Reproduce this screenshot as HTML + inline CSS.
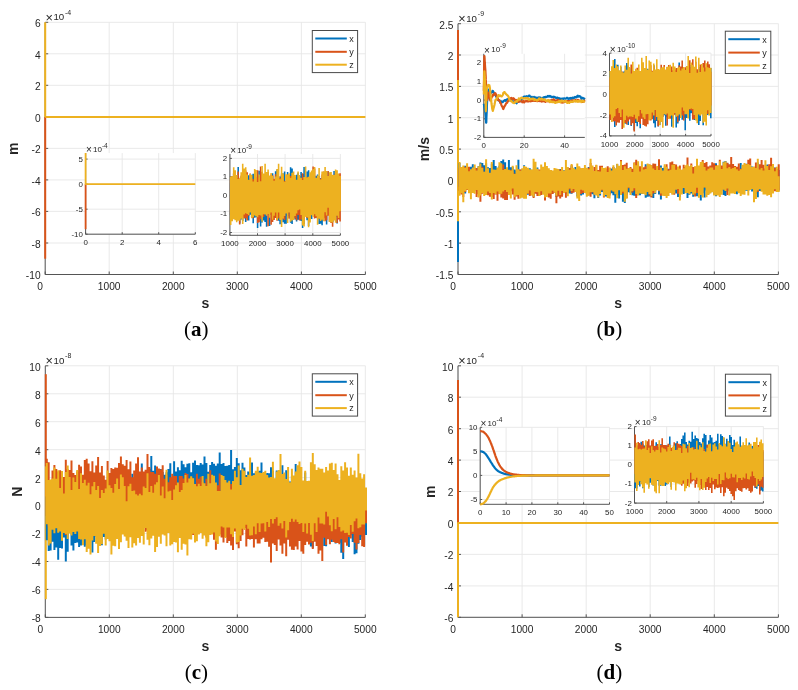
<!DOCTYPE html>
<html><head><meta charset="utf-8"><style>
html,body{margin:0;padding:0;background:#fff;}
svg{display:block;font-family:"Liberation Sans", sans-serif;will-change:transform;}
</style></head><body>
<svg width="798" height="690" viewBox="0 0 798 690">
<rect width="798" height="690" fill="#fff"/>
<line x1="45.2" y1="22.3" x2="45.2" y2="274.5" stroke="#e6e6e6" stroke-width="0.9"/>
<line x1="109.2" y1="22.3" x2="109.2" y2="274.5" stroke="#e6e6e6" stroke-width="0.9"/>
<line x1="173.3" y1="22.3" x2="173.3" y2="274.5" stroke="#e6e6e6" stroke-width="0.9"/>
<line x1="237.3" y1="22.3" x2="237.3" y2="274.5" stroke="#e6e6e6" stroke-width="0.9"/>
<line x1="301.4" y1="22.3" x2="301.4" y2="274.5" stroke="#e6e6e6" stroke-width="0.9"/>
<line x1="365.4" y1="22.3" x2="365.4" y2="274.5" stroke="#e6e6e6" stroke-width="0.9"/>
<line x1="45.2" y1="274.5" x2="365.4" y2="274.5" stroke="#e6e6e6" stroke-width="0.9"/>
<line x1="45.2" y1="243" x2="365.4" y2="243" stroke="#e6e6e6" stroke-width="0.9"/>
<line x1="45.2" y1="211.4" x2="365.4" y2="211.4" stroke="#e6e6e6" stroke-width="0.9"/>
<line x1="45.2" y1="179.9" x2="365.4" y2="179.9" stroke="#e6e6e6" stroke-width="0.9"/>
<line x1="45.2" y1="148.4" x2="365.4" y2="148.4" stroke="#e6e6e6" stroke-width="0.9"/>
<line x1="45.2" y1="116.9" x2="365.4" y2="116.9" stroke="#e6e6e6" stroke-width="0.9"/>
<line x1="45.2" y1="85.3" x2="365.4" y2="85.3" stroke="#e6e6e6" stroke-width="0.9"/>
<line x1="45.2" y1="53.8" x2="365.4" y2="53.8" stroke="#e6e6e6" stroke-width="0.9"/>
<line x1="45.2" y1="22.3" x2="365.4" y2="22.3" stroke="#e6e6e6" stroke-width="0.9"/>
<path d="M45.2 22.3V274.5H365.4" fill="none" stroke="#555555" stroke-width="1.0"/>
<path d="M45.2 274.5v-3M109.2 274.5v-3M173.3 274.5v-3M237.3 274.5v-3M301.4 274.5v-3M365.4 274.5v-3M45.2 274.5h3M45.2 243h3M45.2 211.4h3M45.2 179.9h3M45.2 148.4h3M45.2 116.9h3M45.2 85.3h3M45.2 53.8h3M45.2 22.3h3" stroke="#555555" stroke-width="1.0"/>
<polyline points="45.2,116.9 45.2,258.7" fill="none" stroke="#D95319" stroke-width="2" stroke-linejoin="round" />
<polyline points="45.2,116.9 365.4,116.9" fill="none" stroke="#EDB120" stroke-width="2" stroke-linejoin="round" />
<polyline points="45.2,22.3 45.2,116.9" fill="none" stroke="#EDB120" stroke-width="2" stroke-linejoin="round" />
<g style="font-size:10.2px" fill="#262626"><text x="40.2" y="290.2" text-anchor="middle">0</text>
<text x="109.2" y="290.2" text-anchor="middle">1000</text>
<text x="173.3" y="290.2" text-anchor="middle">2000</text>
<text x="237.3" y="290.2" text-anchor="middle">3000</text>
<text x="301.4" y="290.2" text-anchor="middle">4000</text>
<text x="365.4" y="290.2" text-anchor="middle">5000</text>
<text x="40.6" y="279.4" text-anchor="end">-10</text>
<text x="40.6" y="247.8" text-anchor="end">-8</text>
<text x="40.6" y="216.3" text-anchor="end">-6</text>
<text x="40.6" y="184.8" text-anchor="end">-4</text>
<text x="40.6" y="153.3" text-anchor="end">-2</text>
<text x="40.6" y="121.7" text-anchor="end">0</text>
<text x="40.6" y="90.2" text-anchor="end">2</text>
<text x="40.6" y="58.7" text-anchor="end">4</text>
<text x="40.6" y="27.2" text-anchor="end">6</text>
<text x="45.5" y="21.5" style="font-size:12.7px">&#215;</text>
<text x="53.4" y="20.3" style="font-size:9.7px">10</text>
<text x="65" y="14.6" style="font-size:7.0px">-4</text></g>
<text x="18.2" y="148.7" transform="rotate(-90 18.2 148.7)" text-anchor="middle" fill="#262626" style="font-size:14px;font-weight:bold">m</text>
<text x="205.3" y="307.9" text-anchor="middle" fill="#262626" style="font-size:14px;font-weight:bold">s</text>
<rect x="312.3" y="30.5" width="45.3" height="42.1" fill="#fff" stroke="#4a4a4a" stroke-width="1"/>
<line x1="315.3" y1="38.5" x2="346.8" y2="38.5" stroke="#0072BD" stroke-width="2"/>
<text x="349.3" y="41.8" fill="#262626" style="font-size:9px">x</text>
<line x1="315.3" y1="51.8" x2="346.8" y2="51.8" stroke="#D95319" stroke-width="2"/>
<text x="349.3" y="55.1" fill="#262626" style="font-size:9px">y</text>
<line x1="315.3" y1="64.7" x2="346.8" y2="64.7" stroke="#EDB120" stroke-width="2"/>
<text x="349.3" y="68" fill="#262626" style="font-size:9px">z</text>
<rect x="85.6" y="153.1" width="109.7" height="81.1" fill="#fff"/>
<line x1="85.6" y1="153.1" x2="85.6" y2="234.2" stroke="#e6e6e6" stroke-width="0.9"/>
<line x1="122.2" y1="153.1" x2="122.2" y2="234.2" stroke="#e6e6e6" stroke-width="0.9"/>
<line x1="158.7" y1="153.1" x2="158.7" y2="234.2" stroke="#e6e6e6" stroke-width="0.9"/>
<line x1="195.3" y1="153.1" x2="195.3" y2="234.2" stroke="#e6e6e6" stroke-width="0.9"/>
<line x1="85.6" y1="234.2" x2="195.3" y2="234.2" stroke="#e6e6e6" stroke-width="0.9"/>
<line x1="85.6" y1="209.2" x2="195.3" y2="209.2" stroke="#e6e6e6" stroke-width="0.9"/>
<line x1="85.6" y1="184.1" x2="195.3" y2="184.1" stroke="#e6e6e6" stroke-width="0.9"/>
<line x1="85.6" y1="159.1" x2="195.3" y2="159.1" stroke="#e6e6e6" stroke-width="0.9"/>
<path d="M85.6 153.1V234.2H195.3" fill="none" stroke="#555555" stroke-width="1.0"/>
<path d="M85.6 234.2v-2M122.2 234.2v-2M158.7 234.2v-2M195.3 234.2v-2M85.6 234.2h2M85.6 209.2h2M85.6 184.1h2M85.6 159.1h2" stroke="#555555" stroke-width="1.0"/>
<polyline points="85.6,184.1 85.6,229.2" fill="none" stroke="#D95319" stroke-width="1.8" stroke-linejoin="round" />
<polyline points="85.6,153.1 85.6,184.1 195.3,184.1" fill="none" stroke="#EDB120" stroke-width="1.8" stroke-linejoin="round" />
<g style="font-size:7.9px" fill="#262626"><text x="85.6" y="245" text-anchor="middle">0</text>
<text x="122.2" y="245" text-anchor="middle">2</text>
<text x="158.7" y="245" text-anchor="middle">4</text>
<text x="195.3" y="245" text-anchor="middle">6</text>
<text x="82.9" y="236.7" text-anchor="end">-10</text>
<text x="82.9" y="211.7" text-anchor="end">-5</text>
<text x="82.9" y="186.6" text-anchor="end">0</text>
<text x="82.9" y="161.6" text-anchor="end">5</text>
<text x="85.9" y="152.8" style="font-size:10.0px">&#215;</text>
<text x="93" y="151.7" style="font-size:8.0px">10</text>
<text x="101.9" y="147.6" style="font-size:6.5px">-4</text></g>
<rect x="229.9" y="154" width="110.5" height="81.3" fill="#fff"/>
<line x1="229.9" y1="154" x2="229.9" y2="235.3" stroke="#e6e6e6" stroke-width="0.9"/>
<line x1="257.5" y1="154" x2="257.5" y2="235.3" stroke="#e6e6e6" stroke-width="0.9"/>
<line x1="285.1" y1="154" x2="285.1" y2="235.3" stroke="#e6e6e6" stroke-width="0.9"/>
<line x1="312.8" y1="154" x2="312.8" y2="235.3" stroke="#e6e6e6" stroke-width="0.9"/>
<line x1="340.4" y1="154" x2="340.4" y2="235.3" stroke="#e6e6e6" stroke-width="0.9"/>
<line x1="229.9" y1="232.5" x2="340.4" y2="232.5" stroke="#e6e6e6" stroke-width="0.9"/>
<line x1="229.9" y1="214" x2="340.4" y2="214" stroke="#e6e6e6" stroke-width="0.9"/>
<line x1="229.9" y1="195.4" x2="340.4" y2="195.4" stroke="#e6e6e6" stroke-width="0.9"/>
<line x1="229.9" y1="176.9" x2="340.4" y2="176.9" stroke="#e6e6e6" stroke-width="0.9"/>
<line x1="229.9" y1="158.4" x2="340.4" y2="158.4" stroke="#e6e6e6" stroke-width="0.9"/>
<path d="M229.9 154V235.3H340.4" fill="none" stroke="#555555" stroke-width="1.0"/>
<path d="M229.9 235.3v-2M257.5 235.3v-2M285.1 235.3v-2M312.8 235.3v-2M340.4 235.3v-2M229.9 232.5h2M229.9 214h2M229.9 195.4h2M229.9 176.9h2M229.9 158.4h2" stroke="#555555" stroke-width="1.0"/>
<path d="M230.7 215.5V183.2M232.2 214.1V178.9M233.7 217.5V173.9M235.2 212.1V181.1M236.7 219.1V178.9M238.2 215.3V167.1M239.7 223.5V179.8M241.2 219.5V177.6M242.7 221V175.5M244.2 212.1V184.5M245.7 222.1V176.5M247.2 216.9V175.1M248.7 220.5V175.3M250.2 214.7V178.8M251.7 217.1V174.7M253.2 223.3V173.7M254.7 217.8V174.6M256.1 217.2V177.7M257.6 228V175.5M259.1 217.3V170.8M260.6 226.6V174.6M262.1 222.4V179.7M263.6 220.5V174.9M265.1 222.1V177.9M266.6 226.8V183.1M268.1 213.2V177.2M269.6 226V175.9M271.1 214.7V181.2M272.6 214.7V173.3M274.1 216.7V180.1M275.6 217V171.3M277.1 217.1V169.6M278.6 220.7V178.9M280.1 224.3V176.6M281.6 214.8V173.5M283.1 222.2V173.5M284.6 223.8V171.4M286.1 223.8V181M287.6 216V172.1M289.1 217.7V175M290.6 222.7V167.3M292.1 224V168.5M293.6 218V175.8M295.1 219.6V179.1M296.6 221.4V174.7M298.1 219.7V172.7M299.6 220V175.9M301.1 221.1V171.9M302.6 228.1V174M304.1 224.3V167.1M305.6 215V179.8M307.1 220.2V171.5M308.6 226V170.2M310.1 216V177M311.6 218.9V180.6M313.1 214.1V174.6M314.6 213V182.1M316.1 214.9V175.8M317.6 219V174.5M319.1 223.9V175.9M320.6 223.8V177.9M322.1 225.3V178.7M323.6 218.5V178.8M325.1 216.2V177.3M326.6 224.6V178.4M328.1 214.9V171.5M329.6 221.6V179.5M331.1 217.8V176M332.6 222.1V182.6M334.1 217.5V171M335.6 216.9V182M337.1 223.6V178.1M338.6 214.3V180.2M340.1 211.6V180.6" fill="none" stroke="#0072BD" stroke-width="1.5750000000000002"/>
<path d="M230.7 214.8V180.1M232.2 217.2V176M233.7 216.5V172.7M235.2 219V177.6M236.7 218.5V178.1M238.2 216.9V171.6M239.7 224.4V181.7M241.2 214.3V175.4M242.7 217.6V175.7M244.2 218.6V177M245.7 218.2V170.4M247.2 220.4V172.2M248.7 215.7V180.2M250.2 212.1V173.4M251.7 212.2V178.5M253.2 218.2V179.2M254.7 211.1V174.5M256.1 215.7V176.9M257.6 222.9V170.3M259.1 222.3V177.6M260.6 219.2V166.4M262.1 216.8V171.7M263.6 217V176.4M265.1 210.5V175.7M266.6 213.7V180.8M268.1 226.2V171.9M269.6 214.4V179.3M271.1 224.7V174.4M272.6 222V175.6M274.1 220.1V178.7M275.6 217.9V174.3M277.1 220.7V181.8M278.6 218.4V176.3M280.1 216.8V177.9M281.6 218.1V175.1M283.1 219.3V175M284.6 219.9V180.8M286.1 209.7V181.6M287.6 212.5V174.5M289.1 218.8V176.6M290.6 211.9V176.1M292.1 219.9V175.8M293.6 213.6V178.6M295.1 218.4V176.8M296.6 220.2V180.3M298.1 215.1V180.8M299.6 220.5V183.6M301.1 219.6V178.6M302.6 212.8V173.3M304.1 221.1V178.1M305.6 216.4V182.3M307.1 217.9V176.9M308.6 215.5V178M310.1 218.2V178.1M311.6 214.9V178.4M313.1 212.8V166.4M314.6 218.6V168.5M316.1 218V180.5M317.6 217.1V176.9M319.1 213.9V176.7M320.6 220.3V178.5M322.1 213.2V174.6M323.6 217.7V171.4M325.1 221.2V177.7M326.6 220.2V178.2M328.1 215.8V171M329.6 222.1V181.3M331.1 223.1V178.4M332.6 226.8V177.9M334.1 218.3V174.8M335.6 214.8V172.6M337.1 223V179.9M338.6 219.5V173.7M340.1 221.5V173.2" fill="none" stroke="#D95319" stroke-width="1.5750000000000002"/>
<path d="M230.7 225.1V176.7M232.2 221.3V175.9M233.7 219.3V167.3M235.2 220.3V170.3M236.7 222.2V175M238.2 220.7V179M239.7 220.7V177.8M241.2 218.8V172.2M242.7 223.9V163.7M244.2 214.6V168.4M245.7 213.3V167.2M247.2 213.9V174.6M248.7 214.9V179.8M250.2 212.4V174M251.7 218.2V174.9M253.2 217.1V181.5M254.7 215.6V168.9M256.1 216.4V169.9M257.6 217.2V181.9M259.1 214.9V174.4M260.6 215.6V181.3M262.1 221.8V166M263.6 214.3V173.6M265.1 214.5V163.7M266.6 215.8V172M268.1 214V169.5M269.6 217.8V175.5M271.1 212.6V172.9M272.6 219.8V175.7M274.1 215.8V180.7M275.6 212.5V176.5M277.1 220V168.9M278.6 212.5V163.7M280.1 219.9V179.2M281.6 227.1V166.8M283.1 218.6V173.5M284.6 215.9V181.7M286.1 213.4V174.3M287.6 223V174.4M289.1 212.5V173.2M290.6 221.7V177.7M292.1 220.6V172.8M293.6 219.9V171.6M295.1 216.1V174.9M296.6 213.5V179.7M298.1 210.3V171.4M299.6 209.4V175.1M301.1 214.9V177.8M302.6 225.5V180M304.1 226.5V176.9M305.6 216.7V166.4M307.1 217.3V177.5M308.6 227.2V176.7M310.1 222.4V172.2M311.6 215.3V170.4M313.1 216.9V169M314.6 214.2V166.9M316.1 216.3V178M317.6 224.8V175.4M319.1 218.8V167.9M320.6 221V179.4M322.1 219.7V171.4M323.6 221.3V171.6M325.1 212.3V166.9M326.6 215.4V171M328.1 207.8V175.9M329.6 222.1V172.3M331.1 222.6V171.9M332.6 222.5V174.7M334.1 220.5V175.1M335.6 222.8V169.5M337.1 215.8V170.3M338.6 217.9V173.7M340.1 211.3V176" fill="none" stroke="#EDB120" stroke-width="1.5750000000000002"/>
<g style="font-size:7.9px" fill="#262626"><text x="229.9" y="246.1" text-anchor="middle">1000</text>
<text x="257.5" y="246.1" text-anchor="middle">2000</text>
<text x="285.1" y="246.1" text-anchor="middle">3000</text>
<text x="312.8" y="246.1" text-anchor="middle">4000</text>
<text x="340.4" y="246.1" text-anchor="middle">5000</text>
<text x="227.2" y="235" text-anchor="end">-2</text>
<text x="227.2" y="216.4" text-anchor="end">-1</text>
<text x="227.2" y="197.9" text-anchor="end">0</text>
<text x="227.2" y="179.4" text-anchor="end">1</text>
<text x="227.2" y="160.9" text-anchor="end">2</text>
<text x="230.2" y="153.7" style="font-size:10.0px">&#215;</text>
<text x="237.3" y="152.6" style="font-size:8.0px">10</text>
<text x="246.2" y="148.5" style="font-size:6.5px">-9</text></g>
<text x="196.3" y="336.3" text-anchor="middle" fill="#000" style="font-family:'Liberation Serif',serif;font-size:21px">(<tspan style="font-weight:bold">a</tspan>)</text>
<line x1="458" y1="23.7" x2="458" y2="274.5" stroke="#e6e6e6" stroke-width="0.9"/>
<line x1="522.1" y1="23.7" x2="522.1" y2="274.5" stroke="#e6e6e6" stroke-width="0.9"/>
<line x1="586.2" y1="23.7" x2="586.2" y2="274.5" stroke="#e6e6e6" stroke-width="0.9"/>
<line x1="650.2" y1="23.7" x2="650.2" y2="274.5" stroke="#e6e6e6" stroke-width="0.9"/>
<line x1="714.3" y1="23.7" x2="714.3" y2="274.5" stroke="#e6e6e6" stroke-width="0.9"/>
<line x1="778.4" y1="23.7" x2="778.4" y2="274.5" stroke="#e6e6e6" stroke-width="0.9"/>
<line x1="458" y1="274.5" x2="778.4" y2="274.5" stroke="#e6e6e6" stroke-width="0.9"/>
<line x1="458" y1="243.1" x2="778.4" y2="243.1" stroke="#e6e6e6" stroke-width="0.9"/>
<line x1="458" y1="211.8" x2="778.4" y2="211.8" stroke="#e6e6e6" stroke-width="0.9"/>
<line x1="458" y1="180.4" x2="778.4" y2="180.4" stroke="#e6e6e6" stroke-width="0.9"/>
<line x1="458" y1="149.1" x2="778.4" y2="149.1" stroke="#e6e6e6" stroke-width="0.9"/>
<line x1="458" y1="117.7" x2="778.4" y2="117.7" stroke="#e6e6e6" stroke-width="0.9"/>
<line x1="458" y1="86.4" x2="778.4" y2="86.4" stroke="#e6e6e6" stroke-width="0.9"/>
<line x1="458" y1="55" x2="778.4" y2="55" stroke="#e6e6e6" stroke-width="0.9"/>
<line x1="458" y1="23.7" x2="778.4" y2="23.7" stroke="#e6e6e6" stroke-width="0.9"/>
<path d="M458 23.7V274.5H778.4" fill="none" stroke="#555555" stroke-width="1.0"/>
<path d="M458 274.5v-3M522.1 274.5v-3M586.2 274.5v-3M650.2 274.5v-3M714.3 274.5v-3M778.4 274.5v-3M458 274.5h3M458 243.1h3M458 211.8h3M458 180.4h3M458 149.1h3M458 117.7h3M458 86.4h3M458 55h3M458 23.7h3" stroke="#555555" stroke-width="1.0"/>
<polyline points="458,180.4 458,30" fill="none" stroke="#D95319" stroke-width="2" stroke-linejoin="round" />
<polyline points="458,180.4 458,262" fill="none" stroke="#0072BD" stroke-width="2" stroke-linejoin="round" />
<polyline points="458,80.1 458,221.2" fill="none" stroke="#EDB120" stroke-width="2" stroke-linejoin="round" />
<path d="M459.5 186.7V163.1M461.4 186.3V167.6M463.3 182.2V167.6M465.2 193.6V165.7M467.1 188.2V168M469 184.9V167.1M470.9 189.4V166.8M472.8 192.2V164.2M474.7 184.2V167.8M476.6 188.6V167.9M478.5 182.8V166.3M480.4 182.7V162.5M482.3 191.3V163M484.2 191.1V165.3M486.1 190.1V163.3M488 191.8V167.3M489.9 188.5V168.1M491.8 191.8V163.7M493.7 188.1V160.1M495.6 190V166.1M497.5 191.1V167.8M499.4 190.1V165.7M501.3 190.2V160.9M503.2 191.2V159.5M505.1 184.8V162.2M507 192.4V168.3M508.9 188.9V159.9M510.8 190.3V167.3M512.7 187.9V166.7M514.6 190.6V169.6M516.5 190V170.3M518.4 191.8V159.7M520.3 190.9V169.7M522.2 191.6V169.2M524.1 189.2V165.3M526 189V168.7M527.9 194.7V170.7M529.8 188.5V168.3M531.7 190.2V169.7M533.6 196.7V173.7M535.5 192V171M537.4 194.1V167.4M539.3 195.4V174.3M541.2 189.4V172.7M543.1 193.8V171.8M545 199V167.6M546.9 192.8V170.3M548.8 192.1V170.4M550.7 190.6V173.6M552.6 193.6V171.4M554.5 191.9V172.3M556.4 197V172.5M558.3 188.1V172M560.2 193.5V169.1M562.1 195.2V170.7M564 191.9V170.2M565.9 193.8V172.3M567.8 193.3V167.8M569.7 193.5V172.1M571.6 193.8V166.2M573.5 190.5V170.7M575.4 190.6V166.9M577.3 196.4V169.6M579.2 195V171.1M581.1 195.4V171.2M583 194.5V172.3M584.9 193V170.2M586.8 194.3V171.9M588.7 195.2V167.1M590.6 193.5V171.2M592.5 194.3V172.5M594.4 198.2V171.1M596.3 193.1V171.2M598.2 198.1V175M600.1 195.6V173.1M602 192.1V171.2M603.9 192.8V180.1M605.8 196.5V175.8M607.7 196.9V171.2M609.6 194.2V173.3M611.5 193.3V168.5M613.4 195.2V167M615.3 202.8V174.9M617.2 194.7V164.1M619.1 198.5V173.9M621 193.1V170.4M622.9 201.7V173.7M624.8 202.9V171M626.7 194.7V173.6M628.6 192.2V170.6M630.5 192.9V169.4M632.4 195.2V168.9M634.3 195.8V173.2M636.2 195.9V162.8M638.1 191.7V169.1M640 195.2V173.5M641.9 194.1V173.4M643.8 193.5V168M645.7 197.7V164.2M647.6 196.8V172.6M649.5 196.4V174.9M651.4 196.6V170.1M653.3 198V168.4M655.2 194V169.3M657.1 189.3V167.6M659 194.6V174.3M660.9 199.4V165.5M662.8 190.7V168.1M664.7 192V166.4M666.6 193.7V170.1M668.5 192.1V168.8M670.4 190.4V171.7M672.3 193.4V165.4M674.2 192.5V175.9M676.1 193.6V170.4M678 196.9V168.3M679.9 197.1V172M681.8 193.1V175.9M683.7 194V170.2M685.6 193.1V172.9M687.5 198.1V173.3M689.4 194.7V170.1M691.3 193.5V170.8M693.2 196.8V168.3M695.1 193.9V167.3M697 196.2V175.8M698.9 193.6V170.1M700.8 200.4V170.8M702.7 193.2V163.1M704.6 197.5V168.4M706.5 190.4V175M708.4 194.3V167.8M710.3 192.8V172.3M712.2 191.6V166.6M714.1 194.5V172.7M716 196.2V163.2M717.9 193.8V172.7M719.8 192.3V167.7M721.7 190.2V169.4M723.6 195.1V161.8M725.5 195.9V161.1M727.4 191.4V163.1M729.3 190.8V169.1M731.2 189.4V166.9M733.1 191.4V167.2M735 189.7V173.5M736.9 194.3V168.6M738.8 190.7V170.6M740.7 190.3V163M742.6 193.1V169.1M744.5 190.8V164.7M746.4 190.8V163.8M748.3 191.1V167.4M750.2 187.1V166.3M752.1 191.6V166.4M754 185.7V168.6M755.9 193.9V170.2M757.8 197.3V162.5M759.7 190.9V166.8M761.6 190.9V168M763.5 190.8V168.8M765.4 192.9V171.3M767.3 185V164.6M769.2 189.3V166.1M771.1 188.4V169.6M773 189V165.3M774.9 190.6V167.4M776.8 191.2V168.7M778.7 190.7V170.1" fill="none" stroke="#0072BD" stroke-width="1.9949999999999999"/>
<path d="M459.5 190.9V167.8M461.4 194.6V168.4M463.3 196.9V171.4M465.2 192V166.7M467.1 189.9V171.9M469 192.4V166.7M470.9 191.3V171.4M472.8 188.8V168.2M474.7 190.5V168.4M476.6 196.9V167.9M478.5 194.3V172.3M480.4 201.7V171.6M482.3 193.8V166.7M484.2 192.3V171.7M486.1 191.6V172M488 195.3V170.3M489.9 196.8V174.5M491.8 197V170.7M493.7 199V173.1M495.6 194.5V170.8M497.5 200.8V178M499.4 194.1V172.6M501.3 197.6V170.7M503.2 198.5V164.6M505.1 200V171.4M507 199.9V172M508.9 194.7V177.5M510.8 191.3V169.8M512.7 194.4V171.4M514.6 199.7V173.4M516.5 196.4V175M518.4 198.7V175.9M520.3 191.4V169.4M522.2 192.3V174.9M524.1 192.3V174.1M526 193.8V176M527.9 193.8V174.3M529.8 195.9V170M531.7 195.2V173.6M533.6 198V176.8M535.5 193.7V175.7M537.4 196V171M539.3 196.1V169.5M541.2 194.9V169.4M543.1 191.7V174.3M545 200.6V172.6M546.9 193.7V173.3M548.8 197.5V173.3M550.7 198.7V170.1M552.6 193.9V171.4M554.5 192.8V174.2M556.4 203.2V169.7M558.3 196.5V173.3M560.2 198.5V169.6M562.1 196.7V170.5M564 191.6V173.1M565.9 197.8V169.7M567.8 191.6V173M569.7 189.4V168M571.6 193.2V165.1M573.5 192.8V170M575.4 192V174.2M577.3 193.2V172M579.2 193.3V167.1M581.1 194V168.4M583 193.1V171.9M584.9 191.7V169.5M586.8 193.4V176.6M588.7 195.3V167.8M590.6 196.8V163.1M592.5 192.4V172.9M594.4 192.4V166.9M596.3 194.2V165.2M598.2 190.5V170M600.1 190.8V165.8M602 190.5V165.7M603.9 197.6V168.3M605.8 188.9V168.7M607.7 189.8V166.2M609.6 195.6V167.7M611.5 187.9V171.7M613.4 191.6V167.1M615.3 191.4V170.3M617.2 188.8V169.5M619.1 188.3V167.9M621 192.4V160M622.9 193.6V165M624.8 187.5V164.4M626.7 198.1V162.8M628.6 188.3V168M630.5 187.8V167.1M632.4 192.6V168.7M634.3 190.6V162.5M636.2 198V159.7M638.1 186.3V164.6M640 191.3V166.3M641.9 189.2V168M643.8 187.5V167.3M645.7 188.4V166.3M647.6 191.9V168.7M649.5 195.6V164.4M651.4 197.4V165.2M653.3 193.4V163.6M655.2 190.9V163.7M657.1 187.4V167.3M659 191.3V159.2M660.9 195.8V169.1M662.8 193.3V171.1M664.7 196V171.8M666.6 184.3V164.2M668.5 189.1V169.2M670.4 190.4V162.2M672.3 188.3V161.4M674.2 194.8V164M676.1 186.9V164.5M678 193.7V169M679.9 186.7V165.5M681.8 187.7V169.7M683.7 188V164.7M685.6 189.3V167M687.5 192.9V157.5M689.4 187.5V166.4M691.3 188.9V163.6M693.2 192.7V167.1M695.1 196.4V166.5M697 192.9V159.8M698.9 184.9V168.9M700.8 188V164.1M702.7 187.7V160M704.6 187.2V163.1M706.5 188.1V162M708.4 188.3V166.6M710.3 187.9V165.5M712.2 189.8V162.2M714.1 191.7V163.3M716 192.8V165.1M717.9 186.2V166.8M719.8 189.8V159.8M721.7 190.6V165.4M723.6 185.3V165.8M725.5 190.3V162.9M727.4 195.1V162.7M729.3 187.4V164.3M731.2 190.2V157M733.1 188.3V164M735 189V166.1M736.9 185.3V166.7M738.8 186.6V163.6M740.7 187.2V168.7M742.6 187.2V168M744.5 185V167.6M746.4 190.1V164M748.3 185.3V159.7M750.2 185.9V158.4M752.1 187.3V168.3M754 188.3V171.1M755.9 190V162.4M757.8 192.1V168.2M759.7 188.1V164.3M761.6 189V160.1M763.5 187.7V164.7M765.4 189.3V168.4M767.3 190.3V165.7M769.2 192.2V164.3M771.1 188.2V157.7M773 193.1V165.9M774.9 191.3V167.8M776.8 188.7V169.6M778.7 189.9V164.3" fill="none" stroke="#D95319" stroke-width="1.9949999999999999"/>
<path d="M459.5 195.7V161.9M461.4 193.3V167.1M463.3 202.2V165.5M465.2 191.2V167.7M467.1 189.4V163.3M469 193.2V171.2M470.9 199.2V169.2M472.8 192.9V167.4M474.7 193.7V164.6M476.6 189.9V170.4M478.5 197.6V166.3M480.4 195.6V163.6M482.3 193.1V168.1M484.2 196V171.7M486.1 194.9V159.3M488 191.4V168.2M489.9 193.1V172.8M491.8 199.6V162M493.7 193.1V169.4M495.6 194.2V169.7M497.5 191.6V167.8M499.4 194.2V162.2M501.3 193.7V163.2M503.2 191.5V170M505.1 189.9V169M507 192V167.2M508.9 195V169.7M510.8 198.4V170.5M512.7 188.4V165.8M514.6 197.2V173.9M516.5 195.4V165.2M518.4 195.1V169.3M520.3 198.5V170.8M522.2 197.8V168.2M524.1 198.8V166M526 198.7V166.7M527.9 193.5V167.8M529.8 190.6V169.3M531.7 195.4V169.5M533.6 196.8V158.7M535.5 192V161.8M537.4 192.3V168.7M539.3 195.9V170.5M541.2 191.3V164.6M543.1 194.7V166.7M545 197.5V162.2M546.9 197.1V165.9M548.8 193.5V168.3M550.7 193.5V170.1M552.6 190.7V170.5M554.5 192.5V168M556.4 195.8V168.6M558.3 190.7V169M560.2 194.9V171.1M562.1 191.1V167M564 192.9V170.6M565.9 192.2V160.1M567.8 196.2V167.1M569.7 188.5V169.7M571.6 191V164M573.5 189V167.7M575.4 192.1V169.3M577.3 198.6V163.6M579.2 201.1V166.2M581.1 189.7V168.2M583 190.6V168.1M584.9 192.9V165M586.8 196.7V167.8M588.7 195.8V169.2M590.6 192.2V158.7M592.5 191.9V165.4M594.4 194.8V170.9M596.3 195.4V164.7M598.2 197.5V171.2M600.1 193.9V171.6M602 189.7V167.1M603.9 196.5V167.9M605.8 195.1V167.6M607.7 198V172.1M609.6 198.6V167.8M611.5 190.6V170.4M613.4 191.6V165.2M615.3 194.2V168.2M617.2 198.2V163.7M619.1 190.3V165.8M621 195.1V161.2M622.9 191.7V170.1M624.8 201.7V166.2M626.7 198.8V168.7M628.6 187.4V168M630.5 195.1V168.2M632.4 191V172.1M634.3 188.2V162.7M636.2 193.9V165.2M638.1 195.5V161.2M640 193.4V171.4M641.9 193.8V161.3M643.8 193.9V169.4M645.7 195.3V169.1M647.6 192.1V163.5M649.5 194V164.3M651.4 196V165.3M653.3 191V168.5M655.2 193.2V169.9M657.1 190.3V166.1M659 190.8V169.9M660.9 193.4V167.6M662.8 195.7V170.5M664.7 196.1V164.2M666.6 197.9V166.8M668.5 195.9V170.7M670.4 192.9V169.8M672.3 194.7V164.7M674.2 193.4V164.4M676.1 189.7V169.8M678 189V166.4M679.9 200.6V168.6M681.8 194.5V170.1M683.7 187.9V168.3M685.6 193.3V165.2M687.5 192.9V164.5M689.4 194.2V166.6M691.3 192V164.9M693.2 194.7V173.6M695.1 193.6V166.4M697 187.8V158.7M698.9 197.8V165.6M700.8 195.1V162.1M702.7 197.5V161.6M704.6 187.6V167.1M706.5 197.2V170.6M708.4 195V168.7M710.3 193.4V167.6M712.2 192.2V167.5M714.1 195.5V169.8M716 195.6V166M717.9 195.6V165.2M719.8 197V161.2M721.7 194.8V169.1M723.6 189.8V162.2M725.5 190.9V161.3M727.4 188.5V168.3M729.3 195.4V166.9M731.2 193.6V168.8M733.1 193.4V167.9M735 194V167M736.9 191.5V169.3M738.8 193.2V170.7M740.7 195.9V169.2M742.6 194.5V164.8M744.5 194.7V163M746.4 190.1V164.2M748.3 195.5V163.9M750.2 190.1V165.1M752.1 189.2V166.9M754 202.2V166.4M755.9 199.1V168M757.8 190.5V158.7M759.7 189.2V169.4M761.6 191.7V168M763.5 194.5V170.6M765.4 194.5V160.3M767.3 195.7V165.9M769.2 194.9V170M771.1 197.2V166.3M773 193.5V164.1M774.9 189.3V171.3M776.8 192.1V166.7M778.7 191.9V176.3" fill="none" stroke="#EDB120" stroke-width="1.9949999999999999"/>
<g style="font-size:10.2px" fill="#262626"><text x="453" y="290.2" text-anchor="middle">0</text>
<text x="522.1" y="290.2" text-anchor="middle">1000</text>
<text x="586.2" y="290.2" text-anchor="middle">2000</text>
<text x="650.2" y="290.2" text-anchor="middle">3000</text>
<text x="714.3" y="290.2" text-anchor="middle">4000</text>
<text x="778.4" y="290.2" text-anchor="middle">5000</text>
<text x="453.4" y="279.4" text-anchor="end">-1.5</text>
<text x="453.4" y="248" text-anchor="end">-1</text>
<text x="453.4" y="216.7" text-anchor="end">-0.5</text>
<text x="453.4" y="185.3" text-anchor="end">0</text>
<text x="453.4" y="154" text-anchor="end">0.5</text>
<text x="453.4" y="122.6" text-anchor="end">1</text>
<text x="453.4" y="91.3" text-anchor="end">1.5</text>
<text x="453.4" y="59.9" text-anchor="end">2</text>
<text x="453.4" y="28.6" text-anchor="end">2.5</text>
<text x="458.3" y="22.9" style="font-size:12.7px">&#215;</text>
<text x="466.2" y="21.7" style="font-size:9.7px">10</text>
<text x="477.8" y="16" style="font-size:7.0px">-9</text></g>
<text x="429.2" y="149.1" transform="rotate(-90 429.2 149.1)" text-anchor="middle" fill="#262626" style="font-size:14px;font-weight:bold">m/s</text>
<text x="618.2" y="307.9" text-anchor="middle" fill="#262626" style="font-size:14px;font-weight:bold">s</text>
<rect x="725.3" y="31.2" width="45.5" height="42.3" fill="#fff" stroke="#4a4a4a" stroke-width="1"/>
<line x1="728.3" y1="39.2" x2="759.8" y2="39.2" stroke="#0072BD" stroke-width="2"/>
<text x="762.3" y="42.5" fill="#262626" style="font-size:9px">x</text>
<line x1="728.3" y1="52.6" x2="759.8" y2="52.6" stroke="#D95319" stroke-width="2"/>
<text x="762.3" y="55.9" fill="#262626" style="font-size:9px">y</text>
<line x1="728.3" y1="65.5" x2="759.8" y2="65.5" stroke="#EDB120" stroke-width="2"/>
<text x="762.3" y="68.8" fill="#262626" style="font-size:9px">z</text>
<rect x="483.8" y="53.8" width="101" height="83.6" fill="#fff"/>
<line x1="483.8" y1="53.8" x2="483.8" y2="137.4" stroke="#e6e6e6" stroke-width="0.9"/>
<line x1="524.2" y1="53.8" x2="524.2" y2="137.4" stroke="#e6e6e6" stroke-width="0.9"/>
<line x1="564.6" y1="53.8" x2="564.6" y2="137.4" stroke="#e6e6e6" stroke-width="0.9"/>
<line x1="483.8" y1="137.4" x2="584.8" y2="137.4" stroke="#e6e6e6" stroke-width="0.9"/>
<line x1="483.8" y1="118.8" x2="584.8" y2="118.8" stroke="#e6e6e6" stroke-width="0.9"/>
<line x1="483.8" y1="100.1" x2="584.8" y2="100.1" stroke="#e6e6e6" stroke-width="0.9"/>
<line x1="483.8" y1="81.4" x2="584.8" y2="81.4" stroke="#e6e6e6" stroke-width="0.9"/>
<line x1="483.8" y1="62.8" x2="584.8" y2="62.8" stroke="#e6e6e6" stroke-width="0.9"/>
<path d="M483.8 53.8V137.4H584.8" fill="none" stroke="#555555" stroke-width="1.0"/>
<path d="M483.8 137.4v-2M524.2 137.4v-2M564.6 137.4v-2M483.8 137.4h2M483.8 118.8h2M483.8 100.1h2M483.8 81.4h2M483.8 62.8h2" stroke="#555555" stroke-width="1.0"/>
<polyline points="483.8,103.8 484,104.7 484.1,105.6 484.3,106.5 484.4,107.4 484.6,108.3 484.7,109.2 484.9,110.1 485,111 485.2,111.9 485.4,112.8 485.5,114.4 485.7,116.5 485.8,118.6 486,120.6 486.1,122.7 486.3,122.3 486.4,118 486.6,113.8 486.8,109.6 486.9,105.4 487.1,101.7 487.2,100.5 487.4,99.2 487.5,97.9 487.7,96.7 487.8,95.4 488,94.4 488.2,92.6 488.3,91.5 488.5,90.6 488.6,89.7 488.8,89.6 488.9,89.7 489.1,89.9 489.2,90.2 489.4,90.8 489.5,90.9 489.7,92 489.9,93.1 490,93.8 490.3,94 490.6,93.2 490.9,92.7 491.2,92.7 491.5,92.6 491.9,92.5 492.2,91.6 492.5,90.8 492.8,90.8 493.1,91.4 493.5,92.2 493.8,92.4 494.1,93.2 494.4,93.5 494.7,94.1 495,94.3 495.4,94.9 495.7,95.6 496,96.2 496.3,96.8 496.6,97.2 496.9,98 497.3,98.4 497.6,99.2 497.9,99.6 498.2,100 498.5,100.5 498.8,100.5 499.2,100.4 499.5,100.4 499.8,101.3 500.1,102.3 500.4,102.6 500.7,101.9 501.1,101.5 501.4,101.4 501.7,102 502,102.2 502.3,102.1 502.6,102.1 503,101.7 503.3,101.5 503.6,101 503.9,100.6 504.2,100.6 504.6,100.2 504.9,100.1 505.2,100.2 505.5,100.6 505.8,100.8 506.1,100.1 506.5,99.7 506.8,99.4 507.1,99.4 507.4,99.3 507.7,99 508,99.1 508.4,99.6 508.7,99.6 509,99.5 509.3,99.2 509.6,99.6 509.9,100 510.3,100.6 510.6,100.5 510.9,100.1 511.2,99.7 511.5,100 511.8,100.4 512.2,101 512.5,101.2 512.8,101.5 513.1,101.7 513.4,101.9 513.8,101.5 514.1,102 514.4,102 514.7,102.3 515,102.3 515.3,102.4 515.7,102.6 516,102.5 516.3,102.8 516.6,103.3 516.9,102.8 517.2,102.2 517.6,101.3 517.9,101.5 518.2,101.8 518.5,101.8 518.8,101.6 519.1,101.5 519.5,101.2 519.8,100.8 520.1,100.9 520.4,101.1 520.7,100.6 521,100 521.4,99.5 521.7,99 522,98.6 522.3,98.4 522.6,98.5 522.9,97.7 523.3,97.5 523.6,96.8 523.9,96.8 524.2,96.5 524.5,96.9 524.9,96.9 525.2,96.7 525.5,96.7 525.8,96.5 526.1,96.5 526.4,96.2 526.8,96.6 527.1,96.7 527.4,96.7 527.7,96.7 528,96.5 528.3,96.2 528.7,95.7 529,95.6 529.3,95.5 529.6,95.6 529.9,96.1 530.2,96.3 530.6,96.9 530.9,97 531.2,97.2 531.5,97.3 531.8,96.8 532.1,97.2 532.5,97.2 532.8,97.8 533.1,97.7 533.4,97.4 533.7,97.3 534.1,96.9 534.4,97 534.7,97 535,97.5 535.3,97.4 535.6,97.7 536,97.9 536.3,97.8 536.6,97.9 536.9,97.7 537.2,98.3 537.5,97.9 537.9,98.1 538.2,98 538.5,98.1 538.8,97.3 539.1,97.3 539.4,97.5 539.8,98.2 540.1,97.7 540.4,97.8 540.7,97.6 541,98.1 541.3,98.4 541.7,98.4 542,98.8 542.3,98.1 542.6,98 542.9,97.7 543.2,97.7 543.6,97.8 543.9,97.4 544.2,97.2 544.5,97 544.8,97.1 545.2,97.4 545.5,96.9 545.8,97 546.1,97.1 546.4,97 546.7,97 547.1,96.7 547.4,96.5 547.7,96 548,95.8 548.3,96.4 548.6,96.4 549,96.7 549.3,96.1 549.6,96.4 549.9,96 550.2,96.2 550.5,96.2 550.9,96.5 551.2,97.1 551.5,97 551.8,97.1 552.1,97 552.4,97.1 552.8,97.1 553.1,96.7 553.4,96.9 553.7,96.8 554,96.8 554.4,96.8 554.7,97 555,97.4 555.3,97.6 555.6,97.6 555.9,97.7 556.3,98 556.6,98.2 556.9,97.8 557.2,97.6 557.5,97.6 557.8,97.8 558.2,98.1 558.5,98.3 558.8,98.6 559.1,98.2 559.4,99.1 559.7,99 560.1,99 560.4,98.7 560.7,98.7 561,99 561.3,98.8 561.6,98.9 562,98.5 562.3,98.5 562.6,98.5 562.9,98.7 563.2,98.9 563.5,98.6 563.9,98.5 564.2,98.3 564.5,98.4 564.8,98.4 565.1,98.6 565.5,98.5 565.8,98.6 566.1,98.3 566.4,98.3 566.7,98 567,97.7 567.4,97.9 567.7,98.1 568,98.7 568.3,98.9 568.6,98.7 568.9,98.3 569.3,98.4 569.6,98.7 569.9,98.8 570.2,98.2 570.5,98.3 570.8,98 571.2,98.8 571.5,98.6 571.8,98.2 572.1,98.1 572.4,97.6 572.7,98.4 573.1,98 573.4,98.4 573.7,97.9 574,97.9 574.3,97.3 574.7,97.2 575,97 575.3,97.3 575.6,97.1 575.9,97.3 576.2,97.2 576.6,97.4 576.9,97 577.2,96.2 577.5,96 577.8,95.6 578.1,96.3 578.5,96.3 578.8,96.6 579.1,96.4 579.4,96.2 579.7,96.1 580,96.4 580.4,96.5 580.7,97 581,97.7 581.3,98.4 581.6,98.7 581.9,98.2 582.3,97.9 582.6,98 582.9,97.9 583.2,98.4 583.5,98.5 583.8,98.7 584.2,98.9 584.5,98.7 584.8,99.1" fill="none" stroke="#0072BD" stroke-width="2.2" stroke-linejoin="round" />
<polyline points="483.8,90.8 484,79.5 484.1,68.3 484.3,57 484.4,56 484.6,58.4 484.7,60.8 484.9,63.2 485,65.7 485.2,68.1 485.4,70.5 485.5,73 485.7,76.4 485.8,79.9 486,83.4 486.1,86.8 486.3,89.8 486.4,91.9 486.6,94.1 486.8,96.2 486.9,98.4 487.1,100 487.2,99.4 487.4,98.8 487.5,98.1 487.7,97.5 487.8,96.9 488,95.7 488.2,95.4 488.3,94.4 488.5,93.7 488.6,92.7 488.8,93.9 488.9,94.8 489.1,95.5 489.2,96.4 489.4,97.2 489.5,97.8 489.7,97.4 489.9,97.7 490,98.5 490.3,100.5 490.6,99.8 490.9,99.2 491.2,98.4 491.5,97.6 491.9,96.8 492.2,96.3 492.5,96.4 492.8,95.5 493.1,94.7 493.5,94.4 493.8,94.8 494.1,94.8 494.4,94 494.7,93.2 495,93.1 495.4,93.2 495.7,93.8 496,94.2 496.3,94.9 496.6,95.8 496.9,96.6 497.3,97.5 497.6,98.5 497.9,99.3 498.2,100 498.5,100.1 498.8,100.1 499.2,100.2 499.5,100.7 499.8,101.3 500.1,102 500.4,102.6 500.7,103.4 501.1,103.9 501.4,105.1 501.7,105.8 502,106.3 502.3,106.5 502.6,107.2 503,108.4 503.3,109.1 503.6,108.4 503.9,107.6 504.2,106.6 504.6,106.5 504.9,105.6 505.2,105.4 505.5,104.6 505.8,104.2 506.1,103.4 506.5,103.1 506.8,102.9 507.1,102.8 507.4,102.1 507.7,101.7 508,101 508.4,100.4 508.7,100.1 509,99.8 509.3,99.6 509.6,99 509.9,98.7 510.3,98.5 510.6,98.8 510.9,98.2 511.2,98.4 511.5,97.9 511.8,98.7 512.2,98.8 512.5,99.2 512.8,98.5 513.1,98.5 513.4,98.2 513.8,98.9 514.1,98.7 514.4,99.3 514.7,99.8 515,100.8 515.3,100.7 515.7,100.4 516,100 516.3,100.3 516.6,100.2 516.9,100 517.2,100.2 517.6,100.4 517.9,101.1 518.2,101.6 518.5,101.9 518.8,101.5 519.1,101.3 519.5,100.7 519.8,101 520.1,100.7 520.4,101.1 520.7,101.2 521,101.4 521.4,101.3 521.7,101.5 522,101.6 522.3,102.3 522.6,102.1 522.9,101.3 523.3,100.8 523.6,101.1 523.9,102.3 524.2,102.4 524.5,101.9 524.9,101.6 525.2,101.4 525.5,101.4 525.8,101 526.1,101.1 526.4,100.9 526.8,101.1 527.1,101.4 527.4,101.3 527.7,101.2 528,101.3 528.3,101.5 528.7,101.5 529,101.1 529.3,100.4 529.6,99.8 529.9,99.9 530.2,100.9 530.6,101.3 530.9,101.4 531.2,101 531.5,100.9 531.8,100.4 532.1,100.5 532.5,100.8 532.8,101 533.1,100.9 533.4,100.5 533.7,100.1 534.1,100.3 534.4,100.4 534.7,100.9 535,100.9 535.3,100.7 535.6,100.8 536,100.1 536.3,100.9 536.6,100.4 536.9,101 537.2,100.7 537.5,101.1 537.9,101 538.2,100.5 538.5,100.3 538.8,100.6 539.1,100.8 539.4,101.1 539.8,100.9 540.1,101 540.4,100.8 540.7,100.8 541,101.1 541.3,101.4 541.7,101.6 542,101.3 542.3,101.2 542.6,101.1 542.9,100.9 543.2,101.1 543.6,101.1 543.9,101.3 544.2,101.4 544.5,101.3 544.8,101.3 545.2,101.4 545.5,101.8 545.8,101.4 546.1,101.3 546.4,100.9 546.7,101.2 547.1,101 547.4,101.1 547.7,101.1 548,101.3 548.3,101.1 548.6,101.1 549,100.6 549.3,100.7 549.6,100.9 549.9,100.7 550.2,100.7 550.5,100.4 550.9,100.8 551.2,100.9 551.5,100.7 551.8,100 552.1,99.9 552.4,100.2 552.8,100.7 553.1,100.1 553.4,99.8 553.7,99.2 554,99.8 554.4,100 554.7,100.8 555,100.9 555.3,100.7 555.6,100.5 555.9,100.7 556.3,101 556.6,101.3 556.9,101 557.2,100.5 557.5,99.9 557.8,99.8 558.2,100 558.5,100.6 558.8,100.7 559.1,101.4 559.4,101.2 559.7,101.3 560.1,100.7 560.4,100.8 560.7,100.9 561,101.5 561.3,102 561.6,102.2 562,102.5 562.3,102.1 562.6,102.1 562.9,102 563.2,102.4 563.5,102.4 563.9,102.3 564.2,101.7 564.5,101.5 564.8,101 565.1,100.8 565.5,101.2 565.8,101.6 566.1,101.3 566.4,101.2 566.7,101.2 567,101.4 567.4,101 567.7,101 568,101.2 568.3,101.5 568.6,101.1 568.9,101.2 569.3,101 569.6,101.1 569.9,101.5 570.2,101.5 570.5,101.4 570.8,100.9 571.2,101 571.5,101 571.8,100.6 572.1,100.3 572.4,100.4 572.7,100.5 573.1,100.5 573.4,100.5 573.7,101.1 574,101 574.3,101.1 574.7,100.6 575,100.5 575.3,100 575.6,100.4 575.9,101 576.2,101 576.6,100.5 576.9,100.3 577.2,100.5 577.5,100.3 577.8,99.9 578.1,99.9 578.5,100.4 578.8,100.7 579.1,101.1 579.4,101 579.7,101.1 580,100.5 580.4,100.5 580.7,101 581,100.9 581.3,100.9 581.6,101 581.9,101.9 582.3,101.9 582.6,101.7 582.9,101.2 583.2,101.6 583.5,101.7 583.8,101.6 584.2,100.9 584.5,100.6 584.8,101" fill="none" stroke="#D95319" stroke-width="2.2" stroke-linejoin="round" />
<polyline points="483.8,94.5 484,86.8 484.1,79 484.3,71.3 484.4,71.3 484.6,74 484.7,76.7 484.9,79.3 485,82.6 485.2,88.3 485.4,94.1 485.5,99.8 485.7,105.6 485.8,111.3 486,107 486.1,102.7 486.3,98.4 486.4,94.1 486.6,89.8 486.8,88.6 486.9,88.2 487.1,87.8 487.2,87.4 487.4,86.9 487.5,86.5 487.7,86.1 487.8,85.7 488,85.2 488.2,85.1 488.3,85 488.5,85.4 488.6,85.2 488.8,85.3 488.9,85.8 489.1,85.4 489.2,85.2 489.4,85.4 489.5,85.9 489.7,86.8 489.9,88.2 490,88.9 490.3,92.2 490.6,94.8 490.9,97.9 491.2,100.6 491.5,103.5 491.9,106.1 492.2,108.7 492.5,109.8 492.8,110.9 493.1,109.9 493.5,108.3 493.8,107.4 494.1,106.2 494.4,105.1 494.7,103.8 495,101.9 495.4,100.7 495.7,99.6 496,99.7 496.3,99.4 496.6,98.9 496.9,98.4 497.3,97.3 497.6,97.3 497.9,96.4 498.2,95.9 498.5,95.1 498.8,95.5 499.2,96 499.5,95.8 499.8,95.6 500.1,95.4 500.4,95.7 500.7,95.8 501.1,96.1 501.4,96.5 501.7,96.5 502,96 502.3,95.7 502.6,95.3 503,94.5 503.3,93 503.6,92.8 503.9,92.4 504.2,92.3 504.6,92.1 504.9,92.6 505.2,93 505.5,93.6 505.8,93.7 506.1,94.3 506.5,94.5 506.8,94.9 507.1,95 507.4,95.4 507.7,95.7 508,95.9 508.4,96.4 508.7,97.4 509,98.4 509.3,99.1 509.6,99.8 509.9,100.3 510.3,100.9 510.6,100.8 510.9,101.1 511.2,100.9 511.5,101.1 511.8,101.4 512.2,101.9 512.5,102.4 512.8,102.6 513.1,102.5 513.4,102.7 513.8,102.8 514.1,103.2 514.4,102.5 514.7,102.2 515,101.8 515.3,102.1 515.7,101.7 516,101.7 516.3,101.4 516.6,101.7 516.9,101.7 517.2,101.2 517.6,100.3 517.9,100 518.2,99.8 518.5,99.7 518.8,98.3 519.1,98.5 519.5,98.7 519.8,99.6 520.1,99.1 520.4,98.6 520.7,98.3 521,98 521.4,97.7 521.7,97.6 522,97.8 522.3,98.3 522.6,98.2 522.9,98.4 523.3,98.3 523.6,98.4 523.9,98.3 524.2,98.1 524.5,98 524.9,98.2 525.2,98.7 525.5,98.4 525.8,98.3 526.1,97.9 526.4,98.1 526.8,98.5 527.1,98.7 527.4,98.7 527.7,98.1 528,98.1 528.3,98.7 528.7,99.6 529,99.8 529.3,99.4 529.6,99.5 529.9,99.7 530.2,99.3 530.6,98.7 530.9,98.8 531.2,99.1 531.5,99.1 531.8,99 532.1,98.7 532.5,99.2 532.8,98.7 533.1,98.9 533.4,98.6 533.7,99.2 534.1,99.6 534.4,100.1 534.7,99.9 535,99.7 535.3,99.3 535.6,99.5 536,99.7 536.3,100.1 536.6,100.3 536.9,100.6 537.2,100.2 537.5,100.3 537.9,99.6 538.2,99.9 538.5,99.3 538.8,99 539.1,98.4 539.4,98.5 539.8,98.9 540.1,99.3 540.4,99.7 540.7,99.5 541,99 541.3,99 541.7,98.5 542,99 542.3,99.1 542.6,99.7 542.9,99.4 543.2,99.3 543.6,99.7 543.9,99.6 544.2,99.9 544.5,99.5 544.8,100 545.2,99.9 545.5,100.2 545.8,100.6 546.1,100.9 546.4,100.9 546.7,101 547.1,101 547.4,100.8 547.7,100.2 548,99.8 548.3,100 548.6,100.6 549,100.9 549.3,101.4 549.6,102.1 549.9,102.1 550.2,102 550.5,101.1 550.9,101.5 551.2,101.3 551.5,101.8 551.8,101.8 552.1,102.2 552.4,101.9 552.8,101.7 553.1,101.6 553.4,102.1 553.7,102.1 554,102 554.4,102.1 554.7,102.1 555,102.8 555.3,102.5 555.6,102.9 555.9,102.4 556.3,102.4 556.6,102.2 556.9,102.2 557.2,102.4 557.5,102 557.8,102.2 558.2,101.8 558.5,101.9 558.8,101.3 559.1,101.2 559.4,100.9 559.7,101.5 560.1,102.1 560.4,102.3 560.7,101.5 561,101.1 561.3,100.6 561.6,100.7 562,100.6 562.3,101.1 562.6,101.1 562.9,101.1 563.2,101.2 563.5,101.7 563.9,101.7 564.2,101.7 564.5,101.3 564.8,101.4 565.1,101.1 565.5,101.5 565.8,101 566.1,101.4 566.4,101.5 566.7,102.3 567,102.8 567.4,103 567.7,102.8 568,102.7 568.3,102.3 568.6,102.7 568.9,102.8 569.3,102.9 569.6,102.4 569.9,102.2 570.2,102 570.5,101.7 570.8,101.3 571.2,101.9 571.5,101.9 571.8,102 572.1,101.7 572.4,101.8 572.7,101.9 573.1,101.4 573.4,101.7 573.7,101.2 574,101.3 574.3,100.7 574.7,100.8 575,100.8 575.3,101.2 575.6,101.4 575.9,101.7 576.2,101.4 576.6,101.5 576.9,101 577.2,101.2 577.5,101.3 577.8,101.8 578.1,101.5 578.5,101.3 578.8,101 579.1,101.6 579.4,101.4 579.7,101.3 580,100.8 580.4,100.7 580.7,101.1 581,101.6 581.3,102.1 581.6,101.7 581.9,101.1 582.3,100.6 582.6,100.9 582.9,100.8 583.2,101.4 583.5,101.1 583.8,101.6 584.2,101.3 584.5,101.2 584.8,100.9" fill="none" stroke="#EDB120" stroke-width="2.2" stroke-linejoin="round" />
<g style="font-size:7.9px" fill="#262626"><text x="483.8" y="148.2" text-anchor="middle">0</text>
<text x="524.2" y="148.2" text-anchor="middle">20</text>
<text x="564.6" y="148.2" text-anchor="middle">40</text>
<text x="481.1" y="139.9" text-anchor="end">-2</text>
<text x="481.1" y="121.2" text-anchor="end">-1</text>
<text x="481.1" y="102.6" text-anchor="end">0</text>
<text x="481.1" y="83.9" text-anchor="end">1</text>
<text x="481.1" y="65.3" text-anchor="end">2</text>
<text x="484.1" y="53.5" style="font-size:10.0px">&#215;</text>
<text x="491.2" y="52.4" style="font-size:8.0px">10</text>
<text x="500.1" y="48.3" style="font-size:6.5px">-9</text></g>
<rect x="609.5" y="53.1" width="101.5" height="82.8" fill="#fff"/>
<line x1="609.5" y1="53.1" x2="609.5" y2="135.9" stroke="#e6e6e6" stroke-width="0.9"/>
<line x1="634.9" y1="53.1" x2="634.9" y2="135.9" stroke="#e6e6e6" stroke-width="0.9"/>
<line x1="660.2" y1="53.1" x2="660.2" y2="135.9" stroke="#e6e6e6" stroke-width="0.9"/>
<line x1="685.6" y1="53.1" x2="685.6" y2="135.9" stroke="#e6e6e6" stroke-width="0.9"/>
<line x1="711" y1="53.1" x2="711" y2="135.9" stroke="#e6e6e6" stroke-width="0.9"/>
<line x1="609.5" y1="135.9" x2="711" y2="135.9" stroke="#e6e6e6" stroke-width="0.9"/>
<line x1="609.5" y1="115.2" x2="711" y2="115.2" stroke="#e6e6e6" stroke-width="0.9"/>
<line x1="609.5" y1="94.5" x2="711" y2="94.5" stroke="#e6e6e6" stroke-width="0.9"/>
<line x1="609.5" y1="73.8" x2="711" y2="73.8" stroke="#e6e6e6" stroke-width="0.9"/>
<line x1="609.5" y1="53.1" x2="711" y2="53.1" stroke="#e6e6e6" stroke-width="0.9"/>
<path d="M609.5 53.1V135.9H711" fill="none" stroke="#555555" stroke-width="1.0"/>
<path d="M609.5 135.9v-2M634.9 135.9v-2M660.2 135.9v-2M685.6 135.9v-2M711 135.9v-2M609.5 135.9h2M609.5 115.2h2M609.5 94.5h2M609.5 73.8h2M609.5 53.1h2" stroke="#555555" stroke-width="1.0"/>
<path d="M610.2 110.9V72.1M611.8 114.1V77.9M613.2 117.9V78.2M614.8 127V59.1M616.2 115.6V72.2M617.8 110.5V64.7M619.2 110.5V71.5M620.8 117.6V66.7M622.2 120.1V71.9M623.8 122.7V71.4M625.2 123.8V70.5M626.8 116.2V62.9M628.2 125V65.6M629.8 112.4V74M631.2 125.9V68.2M632.8 120V71.8M634.2 130.2V77.9M635.8 122.9V70.1M637.2 126.2V70.3M638.8 116.8V72.3M640.2 128.3V75.1M641.8 118.2V68.5M643.2 117.1V65.2M644.8 123V76.5M646.2 120.1V77.4M647.8 117.2V68.7M649.2 117.4V72.7M650.8 113.2V70.8M652.2 114.8V76.7M653.8 123.2V65.1M655.2 127.4V71.8M656.8 121.1V78.1M658.2 126.6V78.1M659.8 125.1V74.5M661.2 116.9V77M662.8 116.9V74.7M664.2 115.2V72.8M665.8 125.7V73M667.2 117.3V73.8M668.8 114.9V70.5M670.2 115.4V67.9M671.8 126.7V78.9M673.2 118.8V75M674.8 114.5V78.8M676.2 127.6V77.4M677.8 123.4V70.5M679.2 120.8V62.6M680.8 114.6V69.9M682.2 119.8V75.4M683.8 118.1V75.9M685.2 130.3V80.1M686.8 117.9V74.3M688.2 112.1V77.3M689.8 120.7V65M691.2 113.3V67.1M692.8 116.8V69.7M694.2 119.9V70M695.8 111V72.8M697.2 118.2V71M698.8 125V69M700.2 121V67.1M701.8 114V70.5M703.2 125.3V68.7M704.8 111.4V67.8M706.2 119.1V73.7M707.8 114.9V73.8M709.2 113.9V70.8M710.8 118.2V68" fill="none" stroke="#0072BD" stroke-width="1.5750000000000002"/>
<path d="M610.2 119.9V77.4M611.8 117.3V82.8M613.2 121.4V69.2M614.8 121.3V73M616.2 125.5V69M617.8 122.5V80M619.2 122.8V74.6M620.8 119.9V77M622.2 129.1V71.5M623.8 123.1V77.2M625.2 123V71.7M626.8 124.5V73.3M628.2 121.4V76.5M629.8 119.5V79M631.2 125.2V64.6M632.8 123.3V76M634.2 131.4V74M635.8 119.6V71.6M637.2 113.4V67.8M638.8 122V71.2M640.2 124V72.9M641.8 118.8V75.6M643.2 125V68.2M644.8 125.8V72.9M646.2 126.5V71.9M647.8 124.2V74.9M649.2 119.8V80M650.8 120.4V65.3M652.2 119.3V70.7M653.8 110.1V66M655.2 120.3V77.4M656.8 116V76.1M658.2 126.3V73.9M659.8 114.2V71.6M661.2 121.4V64.8M662.8 116.6V71.3M664.2 113.3V65M665.8 113.2V71.3M667.2 125.5V67.1M668.8 118.3V65M670.2 118.8V67.4M671.8 114.3V66.4M673.2 115.9V70.3M674.8 114.8V69.5M676.2 112.5V68.1M677.8 122.3V76.5M679.2 111.4V65.2M680.8 112.2V66.5M682.2 115.4V60.6M683.8 120.4V72M685.2 112.3V67.2M686.8 113V66.2M688.2 109.6V70.8M689.8 109.7V60.2M691.2 110.4V68.2M692.8 119.7V59.2M694.2 119V73.6M695.8 113.6V61.7M697.2 112.8V69.3M698.8 107V73.5M700.2 110.1V64.6M701.8 109.5V69.4M703.2 110.2V62.9M704.8 109.4V60.6M706.2 117V67.6M707.8 113.9V61.4M709.2 112.7V64.2M710.8 105.6V71.8" fill="none" stroke="#D95319" stroke-width="1.5750000000000002"/>
<path d="M610.2 114.5V71.1M611.8 122V66.2M613.2 117.8V60M614.8 116.2V67.9M616.2 109V64.6M617.8 108V66.2M619.2 113.1V70.3M620.8 117.1V65.4M622.2 109.6V72.3M623.8 127.8V72.6M625.2 119.9V65.4M626.8 115.7V69.8M628.2 117.2V57.7M629.8 116.4V67M631.2 116.6V73.6M632.8 117V61.8M634.2 114.8V70.9M635.8 118.4V68.8M637.2 121.7V69.7M638.8 116.2V64.6M640.2 110.1V71M641.8 113.6V57.7M643.2 117.4V62.2M644.8 118.9V68.1M646.2 114.2V56M647.8 113.9V69.6M649.2 120.4V60.4M650.8 119.6V61.7M652.2 112.5V71.4M653.8 115.6V63.6M655.2 110V69.5M656.8 117V59.2M658.2 120.5V69M659.8 125.3V69.5M661.2 121.9V67.6M662.8 127.8V67.2M664.2 114.2V66.7M665.8 114.7V69.4M667.2 113.4V66.7M668.8 118.9V66.5M670.2 116.3V64.7M671.8 115.6V71.9M673.2 127.8V62.7M674.8 112.9V66.5M676.2 116.8V71.9M677.8 115.8V67.8M679.2 114.5V67M680.8 118V70.4M682.2 107.5V68.6M683.8 110.8V67.1M685.2 114.3V69.9M686.8 114.3V66.3M688.2 118.6V56M689.8 109.1V72.9M691.2 108.4V62.5M692.8 109V64.8M694.2 115V66.8M695.8 120.4V56.6M697.2 123.3V72.7M698.8 114.6V57.8M700.2 115.7V72.1M701.8 114.4V64.1M703.2 122.8V67.6M704.8 121.7V71.5M706.2 125.4V63.3M707.8 110.2V67.2M709.2 115.6V68M710.8 113.1V67.7" fill="none" stroke="#EDB120" stroke-width="1.5750000000000002"/>
<g style="font-size:7.9px" fill="#262626"><text x="609.5" y="146.7" text-anchor="middle">1000</text>
<text x="634.9" y="146.7" text-anchor="middle">2000</text>
<text x="660.2" y="146.7" text-anchor="middle">3000</text>
<text x="685.6" y="146.7" text-anchor="middle">4000</text>
<text x="711" y="146.7" text-anchor="middle">5000</text>
<text x="606.8" y="138.4" text-anchor="end">-4</text>
<text x="606.8" y="117.7" text-anchor="end">-2</text>
<text x="606.8" y="97" text-anchor="end">0</text>
<text x="606.8" y="76.3" text-anchor="end">2</text>
<text x="606.8" y="55.6" text-anchor="end">4</text>
<text x="609.8" y="52.8" style="font-size:10.0px">&#215;</text>
<text x="616.9" y="51.7" style="font-size:8.0px">10</text>
<text x="625.8" y="47.6" style="font-size:6.5px">-10</text></g>
<text x="609.4" y="336.3" text-anchor="middle" fill="#000" style="font-family:'Liberation Serif',serif;font-size:21px">(<tspan style="font-weight:bold">b</tspan>)</text>
<line x1="45.3" y1="365.8" x2="45.3" y2="617.4" stroke="#e6e6e6" stroke-width="0.9"/>
<line x1="109.3" y1="365.8" x2="109.3" y2="617.4" stroke="#e6e6e6" stroke-width="0.9"/>
<line x1="173.3" y1="365.8" x2="173.3" y2="617.4" stroke="#e6e6e6" stroke-width="0.9"/>
<line x1="237.3" y1="365.8" x2="237.3" y2="617.4" stroke="#e6e6e6" stroke-width="0.9"/>
<line x1="301.3" y1="365.8" x2="301.3" y2="617.4" stroke="#e6e6e6" stroke-width="0.9"/>
<line x1="365.3" y1="365.8" x2="365.3" y2="617.4" stroke="#e6e6e6" stroke-width="0.9"/>
<line x1="45.3" y1="617.4" x2="365.3" y2="617.4" stroke="#e6e6e6" stroke-width="0.9"/>
<line x1="45.3" y1="589.4" x2="365.3" y2="589.4" stroke="#e6e6e6" stroke-width="0.9"/>
<line x1="45.3" y1="561.5" x2="365.3" y2="561.5" stroke="#e6e6e6" stroke-width="0.9"/>
<line x1="45.3" y1="533.5" x2="365.3" y2="533.5" stroke="#e6e6e6" stroke-width="0.9"/>
<line x1="45.3" y1="505.6" x2="365.3" y2="505.6" stroke="#e6e6e6" stroke-width="0.9"/>
<line x1="45.3" y1="477.6" x2="365.3" y2="477.6" stroke="#e6e6e6" stroke-width="0.9"/>
<line x1="45.3" y1="449.7" x2="365.3" y2="449.7" stroke="#e6e6e6" stroke-width="0.9"/>
<line x1="45.3" y1="421.7" x2="365.3" y2="421.7" stroke="#e6e6e6" stroke-width="0.9"/>
<line x1="45.3" y1="393.8" x2="365.3" y2="393.8" stroke="#e6e6e6" stroke-width="0.9"/>
<line x1="45.3" y1="365.8" x2="365.3" y2="365.8" stroke="#e6e6e6" stroke-width="0.9"/>
<path d="M45.3 365.8V617.4H365.3" fill="none" stroke="#555555" stroke-width="1.0"/>
<path d="M45.3 617.4v-3M109.3 617.4v-3M173.3 617.4v-3M237.3 617.4v-3M301.3 617.4v-3M365.3 617.4v-3M45.3 617.4h3M45.3 589.4h3M45.3 561.5h3M45.3 533.5h3M45.3 505.6h3M45.3 477.6h3M45.3 449.7h3M45.3 421.7h3M45.3 393.8h3M45.3 365.8h3" stroke="#555555" stroke-width="1.0"/>
<polyline points="45.8,466.4 45.8,374.2" fill="none" stroke="#D95319" stroke-width="2" stroke-linejoin="round" />
<polyline points="45.8,466.4 45.8,599.2" fill="none" stroke="#EDB120" stroke-width="2" stroke-linejoin="round" />
<path d="M46.8 540.3V496.4M48.7 551V494.9M50.6 550.4V486.9M52.5 541.8V486.9M54.4 550V494.7M56.3 547.6V494.7M58.2 559.8V497.5M60.1 548V492.7M62 548.6V492.6M63.9 537.4V498.9M65.8 561.6V490.8M67.7 551.8V495.8M69.6 531.8V497.8M71.5 545.5V497.4M73.4 550.5V500.7M75.3 543.1V485.2M77.2 542.4V496.5M79.1 547.1V489.9M81 545.6V478.8M82.9 544.7V493.9M84.8 546.7V498.3M86.7 545.2V494.6M88.6 537.5V481.9M90.5 531.4V499.7M92.4 552.5V486M94.3 542V487.5M96.2 536.8V480.1M98.1 539.3V490.8M100 535.9V487.8M101.9 545.2V494.1M103.8 536.9V485.9M105.7 539.6V482.2M107.6 535.7V491.1M109.5 537.3V482.5M111.4 527.7V490.6M113.3 536.3V485.3M115.2 532.1V482.4M117.1 536.9V475.9M119 529.7V485.6M120.9 530.4V480M122.8 527.8V481.7M124.7 529.5V467.9M126.6 536.5V476.7M128.5 531.9V488.1M130.4 536.1V483.5M132.3 523.2V473.7M134.2 528.2V478M136.1 531.4V481.2M138 524.3V481.9M139.9 533.4V481.9M141.8 521.1V463.6M143.7 523.3V484.2M145.6 526.4V482.6M147.5 510.7V478M149.4 522.5V468.8M151.3 520V456.1M153.2 516.3V470.7M155.1 526.9V465.6M157 538V473.7M158.9 523.5V469.2M160.8 528.9V468.9M162.7 517.8V472.1M164.6 512.9V474.7M166.5 525.8V472.2M168.4 524.7V468.9M170.3 513.5V463.3M172.2 517.5V480.2M174.1 518.9V461.3M176 516.5V471.6M177.9 525.2V467.2M179.8 512.7V470.2M181.7 516.2V460.8M183.6 521.4V464.2M185.5 512.1V467.2M187.4 524.3V463.7M189.3 517.1V463.3M191.2 517.5V472.3M193.1 510.8V462.8M195 512.3V460.5M196.9 517.3V465M198.8 516.5V465.3M200.7 525.7V463M202.6 515.4V464.6M204.5 508.1V456.6M206.4 512.9V463.1M208.3 508.2V471.7M210.2 514.7V464.9M212.1 504.8V462.1M214 508.1V463.7M215.9 521.2V465.8M217.8 510V463.6M219.7 511.1V452.5M221.6 517.4V464.1M223.5 512.3V463.1M225.4 510.1V466M227.3 503.9V465.8M229.2 514.6V465.1M231.1 507.9V449.9M233 513.1V469.2M234.9 508.7V466.9M236.8 510.2V457.9M238.7 511.6V463.2M240.6 511.7V470.3M242.5 515.6V462.8M244.4 515V467.4M246.3 519.4V474.9M248.2 511.6V471.4M250.1 514.1V472.4M252 514.1V462.4M253.9 514.5V473.3M255.8 514.1V472.3M257.7 511.1V471.5M259.6 515V470.8M261.5 523V462.4M263.4 520.9V474.1M265.3 518.8V474.6M267.2 535.7V472.9M269.1 519V473.2M271 526.2V467.2M272.9 520.7V470.7M274.8 517.8V479.2M276.7 524.1V470.5M278.6 519.6V477.6M280.5 522.2V477.3M282.4 527.6V465.3M284.3 519.6V484.3M286.2 521.4V470.2M288.1 530.7V479.9M290 523.2V481.4M291.9 525.3V475.9M293.8 536.5V477.3M295.7 524.6V464.1M297.6 529.2V480.2M299.5 527.4V487.2M301.4 534.8V489.1M303.3 532.9V489.7M305.2 538V472.4M307.1 531.2V483.8M309 528.4V485.5M310.9 546.4V484.1M312.8 548V479.4M314.7 531V491.6M316.6 532.9V486.8M318.5 533.5V492.4M320.4 541.5V478.8M322.3 532.1V482.6M324.2 545.9V492.4M326.1 546.2V493.1M328 535V488.9M329.9 536.8V494.1M331.8 542.1V488.9M333.7 535.8V487.8M335.6 543.4V482.9M337.5 541.8V496.3M339.4 542.8V486.1M341.3 552.7V492.4M343.2 559.1V496.1M345.1 536.1V494.7M347 538.4V494.3M348.9 546.9V496.3M350.8 535.2V488.6M352.7 542.1V493.3M354.6 554.3V491M356.5 553.2V490.5M358.4 543.8V482.3M360.3 540.1V495.8M362.2 536.8V491.7M364.1 545.8V489.6M366 534.9V516.5" fill="none" stroke="#0072BD" stroke-width="1.9949999999999999"/>
<path d="M46.8 515.9V458.8M48.7 526.4V462.3M50.6 522.6V481.2M52.5 517.1V470.4M54.4 517.4V465.1M56.3 521.6V468.9M58.2 527.3V471.5M60.1 522.4V470.3M62 518.6V475.2M63.9 518V477.1M65.8 535V459.8M67.7 515.3V469.3M69.6 518V470M71.5 512.9V460.4M73.4 516.6V473.1M75.3 523.4V475M77.2 528.4V471.5M79.1 519.5V464.8M81 518.8V466.6M82.9 514.1V474.8M84.8 533.4V460M86.7 510.9V458.8M88.6 513.8V463.4M90.5 520.2V471.3M92.4 517.7V461.3M94.3 501.8V472.4M96.2 527.3V465.5M98.1 516.2V457.1M100 522.9V472.5M101.9 514.7V466M103.8 529.9V475.6M105.7 510.8V479.7M107.6 513V461.1M109.5 516V472.9M111.4 522.1V468M113.3 509V469M115.2 518.7V467.5M117.1 519.9V467.8M119 519.8V463M120.9 512V456.5M122.8 518.1V464.2M124.7 517.3V465.7M126.6 522.7V459.9M128.5 517.5V469.2M130.4 515.8V461.5M132.3 523.8V477.3M134.2 511V470.4M136.1 520.6V463.5M138 526.6V457.2M139.9 512.3V471.5M141.8 516.5V467.6M143.7 520.3V471.4M145.6 531.7V469.8M147.5 530.4V453.9M149.4 531.8V467.1M151.3 510.1V472M153.2 522.4V472M155.1 526.3V473.8M157 521.4V466.6M158.9 515.5V468.6M160.8 517.6V469.6M162.7 520V465.2M164.6 525.5V478.8M166.5 529.8V475M168.4 531.6V482.2M170.3 518.7V477.3M172.2 537V473.8M174.1 525.4V475.9M176 514.1V475.9M177.9 531.1V484.2M179.8 526.9V476.1M181.7 524.7V475.9M183.6 520V478.4M185.5 529.2V473M187.4 526.7V474M189.3 525.3V478.7M191.2 523.3V477.1M193.1 534.9V478.4M195 537.1V490.5M196.9 533.5V473.8M198.8 533.4V478.7M200.7 525.6V476.8M202.6 532.4V482M204.5 528.3V489.1M206.4 537.5V478.7M208.3 530.3V484.6M210.2 534.8V470.2M212.1 523.7V489.1M214 539.7V481.2M215.9 549.7V490.4M217.8 533.9V485.3M219.7 534.6V473.5M221.6 537.5V491M223.5 542.4V489.4M225.4 537.3V485M227.3 543V500.5M229.2 541V488.3M231.1 545.5V484.1M233 550V490.1M234.9 531.5V485.7M236.8 544.3V500.4M238.7 548.2V488.8M240.6 541V491.9M242.5 535.3V491.5M244.4 528.1V498.5M246.3 546.4V493.1M248.2 539.1V482.7M250.1 539.5V495.2M252 539.1V487.6M253.9 547.4V490.9M255.8 539.2V499.5M257.7 543.6V487.3M259.6 543.4V501.1M261.5 539.2V493.9M263.4 537.7V498M265.3 542V496.7M267.2 541.7V509.1M269.1 546.7V490M271 562.5V495.8M272.9 543.4V497.1M274.8 544.9V495.4M276.7 551.1V492.6M278.6 539.4V495.1M280.5 545.5V502.6M282.4 553.7V491.1M284.3 543.5V498M286.2 556.3V489.9M288.1 539.7V506.1M290 546.6V495M291.9 549.7V503M293.8 550V505.4M295.7 546.6V500.9M297.6 549.4V502.1M299.5 541.1V498.4M301.4 551.4V487.1M303.3 553.7V487M305.2 544.9V488.2M307.1 541.8V492.4M309 544.4V494.9M310.9 542.7V488.3M312.8 549V499.2M314.7 541.8V485M316.6 546V499.8M318.5 553.7V500.1M320.4 550.5V495.1M322.3 561.1V499.7M324.2 537.8V494.8M326.1 544.9V501.4M328 539.3V492.4M329.9 544.3V487.7M331.8 539.8V497.8M333.7 542.1V489.4M335.6 542.9V496.1M337.5 543.1V495.9M339.4 544.2V486.8M341.3 539.3V490.2M343.2 552.4V493.1M345.1 542.6V482.7M347 545.7V487.2M348.9 536.9V496.5M350.8 538.5V496.7M352.7 534.1V504.7M354.6 542.8V487M356.5 549.6V490.2M358.4 542.9V490.1M360.3 535.1V493.7M362.2 546.3V496.6M364.1 546.9V496.8M366 523.3V504.3" fill="none" stroke="#D95319" stroke-width="1.9949999999999999"/>
<path d="M46.8 524.3V463.1M48.7 545.6V479.9M50.6 543.5V479.4M52.5 529.8V478.5M54.4 533.3V467.4M56.3 528.3V478.8M58.2 532.8V470.3M60.1 531.4V487.9M62 540.7V471M63.9 532.9V493.4M65.8 534.1V472M67.7 539.1V465.6M69.6 533.6V477M71.5 535.5V490.1M73.4 532V477.5M75.3 534V481.9M77.2 531.4V470M79.1 538.9V489M81 539.4V473.2M82.9 545.2V483.1M84.8 539.2V479.8M86.7 552.1V485.4M88.6 548.8V482.8M90.5 554.4V494.2M92.4 540.5V486.3M94.3 536.1V481.9M96.2 543.8V489.9M98.1 552.9V486M100 545.9V498M101.9 544.3V489.9M103.8 533.7V493M105.7 545.4V488.5M107.6 539V470.6M109.5 541.2V485.2M111.4 554.4V488.1M113.3 545.8V492.7M115.2 546.3V483.9M117.1 539V478.5M119 549V488.9M120.9 542.3V474.5M122.8 534.6V477.3M124.7 536.6V486.1M126.6 540.8V501.3M128.5 547.9V486.2M130.4 537.3V483.8M132.3 547.4V491M134.2 543.3V490.4M136.1 545.4V494.3M138 537.9V495.5M139.9 542.7V493.8M141.8 536.1V495.2M143.7 544.6V486.5M145.6 528.1V487.9M147.5 539.7V473.2M149.4 545.3V492.1M151.3 538.6V486M153.2 535.8V492.8M155.1 551.9V484.5M157 547.1V482.2M158.9 536.7V475.1M160.8 543.7V495.5M162.7 534.5V486.4M164.6 535.4V498.2M166.5 546.3V469.8M168.4 533.1V491.4M170.3 545.6V490.7M172.2 544.2V499.9M174.1 542.1V489.5M176 542.6V485.3M177.9 552.3V482.4M179.8 538.1V492M181.7 549.7V490M183.6 543.7V483M185.5 544.5V475M187.4 555.5V482.5M189.3 539.3V478.5M191.2 539.6V476.3M193.1 533.7V478.3M195 542.6V483.9M196.9 541.3V486.3M198.8 534.4V483.8M200.7 533.1V486.1M202.6 538.8V476.1M204.5 535.6V483.2M206.4 546.3V486M208.3 542.2V473.8M210.2 534.7V483.2M212.1 534.6V474.8M214 532.4V475.8M215.9 541.6V482.6M217.8 544.1V491.1M219.7 536.3V491M221.6 526.6V474.9M223.5 527.4V475.9M225.4 537.9V480.1M227.3 527.5V482.6M229.2 527.6V480.8M231.1 534.3V489.6M233 537.1V480.9M234.9 528.5V470.7M236.8 542.5V477.2M238.7 542V465.5M240.6 535.5V485M242.5 528.8V468.7M244.4 529.9V470.7M246.3 524.7V477.1M248.2 528.7V474.8M250.1 535.4V457.4M252 535.3V475.7M253.9 526.6V475M255.8 534.2V470.7M257.7 523.3V466.7M259.6 531.9V472.4M261.5 523.4V472.9M263.4 523.2V472.1M265.3 531.6V470.8M267.2 522.1V474.9M269.1 526.9V477.4M271 518.9V477.1M272.9 523.5V461.8M274.8 519V478.3M276.7 517.2V471.4M278.6 525.8V470.1M280.5 523.2V454.1M282.4 528.5V473.9M284.3 521.1V472.6M286.2 537.4V479.1M288.1 530.2V467M290 522V482.2M291.9 518.8V468.7M293.8 521.7V475.6M295.7 519.6V471.6M297.6 522.1V465.3M299.5 524.1V461.6M301.4 522.9V466.9M303.3 531.9V480.6M305.2 523.4V470.7M307.1 533.5V481.1M309 523.1V480.7M310.9 534.7V462.3M312.8 540.9V453.1M314.7 523.3V464.3M316.6 532.1V470M318.5 517.5V467.5M320.4 523.6V468.7M322.3 523.6V468.7M324.2 524.5V472.5M326.1 511.7V466.9M328 516.6V470.5M329.9 525.2V463.4M331.8 531.3V462.7M333.7 519V470.1M335.6 529.2V463.4M337.5 517.3V474.2M339.4 527.1V479.9M341.3 531.4V466.3M343.2 530.5V470.4M345.1 533V462.3M347 532.8V467.5M348.9 535V475.8M350.8 525.1V467.5M352.7 531.7V474.7M354.6 521.2V470.5M356.5 518.4V477.4M358.4 528.3V453.7M360.3 527.3V473.3M362.2 524.6V478.6M364.1 524.5V474.3M366 510.4V487.6" fill="none" stroke="#EDB120" stroke-width="1.9949999999999999"/>
<g style="font-size:10.2px" fill="#262626"><text x="40.3" y="633.1" text-anchor="middle">0</text>
<text x="109.3" y="633.1" text-anchor="middle">1000</text>
<text x="173.3" y="633.1" text-anchor="middle">2000</text>
<text x="237.3" y="633.1" text-anchor="middle">3000</text>
<text x="301.3" y="633.1" text-anchor="middle">4000</text>
<text x="365.3" y="633.1" text-anchor="middle">5000</text>
<text x="40.7" y="622.3" text-anchor="end">-8</text>
<text x="40.7" y="594.3" text-anchor="end">-6</text>
<text x="40.7" y="566.4" text-anchor="end">-4</text>
<text x="40.7" y="538.4" text-anchor="end">-2</text>
<text x="40.7" y="510.4" text-anchor="end">0</text>
<text x="40.7" y="482.5" text-anchor="end">2</text>
<text x="40.7" y="454.5" text-anchor="end">4</text>
<text x="40.7" y="426.6" text-anchor="end">6</text>
<text x="40.7" y="398.6" text-anchor="end">8</text>
<text x="40.7" y="370.7" text-anchor="end">10</text>
<text x="45.6" y="365" style="font-size:12.7px">&#215;</text>
<text x="53.5" y="363.8" style="font-size:9.7px">10</text>
<text x="65.1" y="358.1" style="font-size:7.0px">-8</text></g>
<text x="22.2" y="491.6" transform="rotate(-90 22.2 491.6)" text-anchor="middle" fill="#262626" style="font-size:14px;font-weight:bold">N</text>
<text x="205.3" y="651" text-anchor="middle" fill="#262626" style="font-size:14px;font-weight:bold">s</text>
<rect x="312.3" y="373.8" width="45.3" height="42.3" fill="#fff" stroke="#4a4a4a" stroke-width="1"/>
<line x1="315.3" y1="381.8" x2="346.8" y2="381.8" stroke="#0072BD" stroke-width="2"/>
<text x="349.3" y="385.1" fill="#262626" style="font-size:9px">x</text>
<line x1="315.3" y1="395.2" x2="346.8" y2="395.2" stroke="#D95319" stroke-width="2"/>
<text x="349.3" y="398.5" fill="#262626" style="font-size:9px">y</text>
<line x1="315.3" y1="408.1" x2="346.8" y2="408.1" stroke="#EDB120" stroke-width="2"/>
<text x="349.3" y="411.4" fill="#262626" style="font-size:9px">z</text>
<text x="196.4" y="679.2" text-anchor="middle" fill="#000" style="font-family:'Liberation Serif',serif;font-size:21px">(<tspan style="font-weight:bold">c</tspan>)</text>
<line x1="458" y1="365.8" x2="458" y2="617.3" stroke="#e6e6e6" stroke-width="0.9"/>
<line x1="522.1" y1="365.8" x2="522.1" y2="617.3" stroke="#e6e6e6" stroke-width="0.9"/>
<line x1="586.2" y1="365.8" x2="586.2" y2="617.3" stroke="#e6e6e6" stroke-width="0.9"/>
<line x1="650.2" y1="365.8" x2="650.2" y2="617.3" stroke="#e6e6e6" stroke-width="0.9"/>
<line x1="714.3" y1="365.8" x2="714.3" y2="617.3" stroke="#e6e6e6" stroke-width="0.9"/>
<line x1="778.4" y1="365.8" x2="778.4" y2="617.3" stroke="#e6e6e6" stroke-width="0.9"/>
<line x1="458" y1="617.3" x2="778.4" y2="617.3" stroke="#e6e6e6" stroke-width="0.9"/>
<line x1="458" y1="585.9" x2="778.4" y2="585.9" stroke="#e6e6e6" stroke-width="0.9"/>
<line x1="458" y1="554.4" x2="778.4" y2="554.4" stroke="#e6e6e6" stroke-width="0.9"/>
<line x1="458" y1="523" x2="778.4" y2="523" stroke="#e6e6e6" stroke-width="0.9"/>
<line x1="458" y1="491.5" x2="778.4" y2="491.5" stroke="#e6e6e6" stroke-width="0.9"/>
<line x1="458" y1="460.1" x2="778.4" y2="460.1" stroke="#e6e6e6" stroke-width="0.9"/>
<line x1="458" y1="428.7" x2="778.4" y2="428.7" stroke="#e6e6e6" stroke-width="0.9"/>
<line x1="458" y1="397.2" x2="778.4" y2="397.2" stroke="#e6e6e6" stroke-width="0.9"/>
<line x1="458" y1="365.8" x2="778.4" y2="365.8" stroke="#e6e6e6" stroke-width="0.9"/>
<path d="M458 365.8V617.3H778.4" fill="none" stroke="#555555" stroke-width="1.0"/>
<path d="M458 617.3v-3M522.1 617.3v-3M586.2 617.3v-3M650.2 617.3v-3M714.3 617.3v-3M778.4 617.3v-3M458 617.3h3M458 585.9h3M458 554.4h3M458 523h3M458 491.5h3M458 460.1h3M458 428.7h3M458 397.2h3M458 365.8h3" stroke="#555555" stroke-width="1.0"/>
<polyline points="458,523 458,444.4" fill="none" stroke="#0072BD" stroke-width="2" stroke-linejoin="round" />
<polyline points="458,523 458,379.9" fill="none" stroke="#D95319" stroke-width="2" stroke-linejoin="round" />
<polyline points="458,617.3 458,523 778.4,523" fill="none" stroke="#EDB120" stroke-width="2" stroke-linejoin="round" />
<g style="font-size:10.2px" fill="#262626"><text x="453" y="633" text-anchor="middle">0</text>
<text x="522.1" y="633" text-anchor="middle">1000</text>
<text x="586.2" y="633" text-anchor="middle">2000</text>
<text x="650.2" y="633" text-anchor="middle">3000</text>
<text x="714.3" y="633" text-anchor="middle">4000</text>
<text x="778.4" y="633" text-anchor="middle">5000</text>
<text x="453.4" y="622.2" text-anchor="end">-6</text>
<text x="453.4" y="590.7" text-anchor="end">-4</text>
<text x="453.4" y="559.3" text-anchor="end">-2</text>
<text x="453.4" y="527.9" text-anchor="end">0</text>
<text x="453.4" y="496.4" text-anchor="end">2</text>
<text x="453.4" y="465" text-anchor="end">4</text>
<text x="453.4" y="433.5" text-anchor="end">6</text>
<text x="453.4" y="402.1" text-anchor="end">8</text>
<text x="453.4" y="370.7" text-anchor="end">10</text>
<text x="458.3" y="365" style="font-size:12.7px">&#215;</text>
<text x="466.2" y="363.8" style="font-size:9.7px">10</text>
<text x="477.8" y="358.1" style="font-size:7.0px">-4</text></g>
<text x="435.2" y="491.7" transform="rotate(-90 435.2 491.7)" text-anchor="middle" fill="#262626" style="font-size:14px;font-weight:bold">m</text>
<text x="618.2" y="651" text-anchor="middle" fill="#262626" style="font-size:14px;font-weight:bold">s</text>
<rect x="725.4" y="374.2" width="45.4" height="41.9" fill="#fff" stroke="#4a4a4a" stroke-width="1"/>
<line x1="728.4" y1="382.2" x2="759.9" y2="382.2" stroke="#0072BD" stroke-width="2"/>
<text x="762.4" y="385.5" fill="#262626" style="font-size:9px">x</text>
<line x1="728.4" y1="395.4" x2="759.9" y2="395.4" stroke="#D95319" stroke-width="2"/>
<text x="762.4" y="398.7" fill="#262626" style="font-size:9px">y</text>
<line x1="728.4" y1="408.2" x2="759.9" y2="408.2" stroke="#EDB120" stroke-width="2"/>
<text x="762.4" y="411.5" fill="#262626" style="font-size:9px">z</text>
<rect x="480.2" y="427.3" width="129.3" height="77" fill="#fff"/>
<line x1="480.2" y1="427.3" x2="480.2" y2="504.3" stroke="#e6e6e6" stroke-width="0.9"/>
<line x1="506.1" y1="427.3" x2="506.1" y2="504.3" stroke="#e6e6e6" stroke-width="0.9"/>
<line x1="531.9" y1="427.3" x2="531.9" y2="504.3" stroke="#e6e6e6" stroke-width="0.9"/>
<line x1="557.8" y1="427.3" x2="557.8" y2="504.3" stroke="#e6e6e6" stroke-width="0.9"/>
<line x1="583.6" y1="427.3" x2="583.6" y2="504.3" stroke="#e6e6e6" stroke-width="0.9"/>
<line x1="609.5" y1="427.3" x2="609.5" y2="504.3" stroke="#e6e6e6" stroke-width="0.9"/>
<line x1="480.2" y1="499.5" x2="609.5" y2="499.5" stroke="#e6e6e6" stroke-width="0.9"/>
<line x1="480.2" y1="475.4" x2="609.5" y2="475.4" stroke="#e6e6e6" stroke-width="0.9"/>
<line x1="480.2" y1="451.4" x2="609.5" y2="451.4" stroke="#e6e6e6" stroke-width="0.9"/>
<line x1="480.2" y1="427.3" x2="609.5" y2="427.3" stroke="#e6e6e6" stroke-width="0.9"/>
<path d="M480.2 427.3V504.3H609.5" fill="none" stroke="#555555" stroke-width="1.0"/>
<path d="M480.2 504.3v-2M506.1 504.3v-2M531.9 504.3v-2M557.8 504.3v-2M583.6 504.3v-2M609.5 504.3v-2M480.2 499.5h2M480.2 475.4h2M480.2 451.4h2M480.2 427.3h2" stroke="#555555" stroke-width="1.0"/>
<polyline points="480.2,451.4 480.6,451.4 481.1,451.4 481.5,451.5 481.9,451.6 482.4,451.7 482.8,451.9 483.2,452 483.7,452.3 484.1,452.6 484.5,453 485,453.4 485.4,453.8 485.9,454.3 486.3,454.9 486.7,455.5 487.2,456.2 487.6,456.8 488,457.5 488.5,458.1 488.9,458.8 489.3,459.5 489.8,460.2 490.2,460.9 490.6,461.6 491.1,462.3 491.5,463 491.9,463.7 492.4,464.4 492.8,465.1 493.2,465.7 493.7,466.3 494.1,466.9 494.5,467.5 495,468.1 495.4,468.6 495.8,469.1 496.3,469.5 496.7,469.9 497.2,470.3 497.6,470.7 498,471 498.5,471.3 498.9,471.6 499.3,471.8 499.8,472 500.2,472.2 500.6,472.4 501.1,472.6 501.5,472.8 501.9,473 502.4,473.1 502.8,473.3 503.2,473.4 503.7,473.6 504.1,473.7 504.5,473.8 505,473.9 505.4,474 505.8,474.1 506.3,474.2 506.7,474.3 507.1,474.3 507.6,474.4 508,474.5 508.5,474.5 508.9,474.6 509.3,474.7 509.8,474.7 510.2,474.8 510.6,474.8 511.1,474.9 511.5,474.9 511.9,475 512.4,475 512.8,475 513.2,475.1 513.7,475.1 514.1,475.1 514.5,475.2 515,475.2 515.4,475.2 515.8,475.2 516.3,475.2 516.7,475.2 517.1,475.3 517.6,475.3 518,475.3 518.4,475.3 518.9,475.3 519.3,475.3 519.8,475.3 520.2,475.3 520.6,475.3 521.1,475.3 521.5,475.4 521.9,475.4 522.4,475.4 522.8,475.4 523.2,475.4 523.7,475.4 524.1,475.4 524.5,475.4 525,475.4 525.4,475.4 525.8,475.4 526.3,475.4 526.7,475.4 527.1,475.4 527.6,475.4 528,475.4 528.4,475.4 528.9,475.4 529.3,475.4 529.7,475.4 530.2,475.4 530.6,475.4 531.1,475.4 531.5,475.4 531.9,475.4 533.2,475.4 535.8,475.4 538.5,475.4 541.1,475.4 543.7,475.4 546.4,475.4 549,475.4 551.6,475.4 554.3,475.4 556.9,475.4 559.5,475.4 562.1,475.4 564.8,475.4 567.4,475.4 570,475.4 572.7,475.4 575.3,475.4 577.9,475.4 580.6,475.4 583.2,475.4 585.8,475.4 588.5,475.4 591.1,475.4 593.7,475.4 596.3,475.4 599,475.4 601.6,475.4 604.2,475.4 606.9,475.4 609.5,475.4" fill="none" stroke="#0072BD" stroke-width="2.2" stroke-linejoin="round" />
<polyline points="480.2,431.2 480.6,431.2 481.1,431.2 481.5,431.3 481.9,431.4 482.4,431.5 482.8,431.6 483.2,431.8 483.7,432.1 484.1,432.4 484.5,432.8 485,433.2 485.4,433.6 485.9,434 486.3,434.6 486.7,435.1 487.2,435.7 487.6,436.4 488,437 488.5,437.8 488.9,438.6 489.3,439.5 489.8,440.5 490.2,441.4 490.6,442.4 491.1,443.5 491.5,444.6 491.9,445.7 492.4,446.9 492.8,448.1 493.2,449.3 493.7,450.5 494.1,451.9 494.5,453.2 495,454.5 495.4,455.8 495.8,457 496.3,458.2 496.7,459.3 497.2,460.4 497.6,461.4 498,462.3 498.5,463.2 498.9,464 499.3,464.8 499.8,465.6 500.2,466.3 500.6,466.9 501.1,467.5 501.5,468 501.9,468.6 502.4,469.1 502.8,469.5 503.2,469.9 503.7,470.3 504.1,470.6 504.5,470.9 505,471.2 505.4,471.5 505.8,471.7 506.3,471.9 506.7,472.2 507.1,472.4 507.6,472.6 508,472.8 508.5,473 508.9,473.1 509.3,473.3 509.8,473.4 510.2,473.6 510.6,473.7 511.1,473.8 511.5,473.9 511.9,474 512.4,474.1 512.8,474.2 513.2,474.3 513.7,474.3 514.1,474.4 514.5,474.5 515,474.5 515.4,474.6 515.8,474.7 516.3,474.7 516.7,474.7 517.1,474.8 517.6,474.8 518,474.9 518.4,474.9 518.9,474.9 519.3,475 519.8,475 520.2,475 520.6,475 521.1,475.1 521.5,475.1 521.9,475.1 522.4,475.1 522.8,475.1 523.2,475.2 523.7,475.2 524.1,475.2 524.5,475.2 525,475.2 525.4,475.2 525.8,475.3 526.3,475.3 526.7,475.3 527.1,475.3 527.6,475.3 528,475.3 528.4,475.3 528.9,475.3 529.3,475.4 529.7,475.4 530.2,475.4 530.6,475.4 531.1,475.4 531.5,475.4 531.9,475.4 533.2,475.4 535.8,475.4 538.5,475.4 541.1,475.4 543.7,475.4 546.4,475.4 549,475.4 551.6,475.4 554.3,475.4 556.9,475.4 559.5,475.4 562.1,475.4 564.8,475.4 567.4,475.4 570,475.4 572.7,475.4 575.3,475.4 577.9,475.4 580.6,475.4 583.2,475.4 585.8,475.4 588.5,475.4 591.1,475.4 593.7,475.4 596.3,475.4 599,475.4 601.6,475.4 604.2,475.4 606.9,475.4 609.5,475.4" fill="none" stroke="#D95319" stroke-width="2.2" stroke-linejoin="round" />
<polyline points="480.2,504.3 480.6,504.3 481.1,504.2 481.5,504.1 481.9,503.9 482.4,503.8 482.8,503.6 483.2,503.4 483.7,503.1 484.1,502.7 484.5,502.3 485,501.8 485.4,501.4 485.9,500.9 486.3,500.3 486.7,499.6 487.2,498.9 487.6,498.2 488,497.5 488.5,496.7 488.9,495.8 489.3,494.9 489.8,493.9 490.2,493 490.6,492.1 491.1,491.2 491.5,490.3 491.9,489.4 492.4,488.6 492.8,487.8 493.2,487.1 493.7,486.4 494.1,485.8 494.5,485.2 495,484.7 495.4,484.2 495.8,483.7 496.3,483.3 496.7,482.8 497.2,482.4 497.6,482 498,481.7 498.5,481.3 498.9,481 499.3,480.7 499.8,480.5 500.2,480.2 500.6,480 501.1,479.8 501.5,479.6 501.9,479.4 502.4,479.2 502.8,479.1 503.2,478.9 503.7,478.7 504.1,478.6 504.5,478.4 505,478.3 505.4,478.1 505.8,478 506.3,477.9 506.7,477.8 507.1,477.6 507.6,477.5 508,477.4 508.5,477.3 508.9,477.2 509.3,477.1 509.8,477 510.2,476.9 510.6,476.8 511.1,476.8 511.5,476.7 511.9,476.6 512.4,476.5 512.8,476.5 513.2,476.4 513.7,476.4 514.1,476.3 514.5,476.3 515,476.2 515.4,476.2 515.8,476.1 516.3,476.1 516.7,476 517.1,476 517.6,476 518,475.9 518.4,475.9 518.9,475.9 519.3,475.8 519.8,475.8 520.2,475.8 520.6,475.8 521.1,475.8 521.5,475.7 521.9,475.7 522.4,475.7 522.8,475.7 523.2,475.7 523.7,475.7 524.1,475.6 524.5,475.6 525,475.6 525.4,475.6 525.8,475.6 526.3,475.6 526.7,475.6 527.1,475.6 527.6,475.6 528,475.6 528.4,475.5 528.9,475.5 529.3,475.5 529.7,475.5 530.2,475.5 530.6,475.5 531.1,475.5 531.5,475.5 531.9,475.5 533.2,475.5 535.8,475.4 538.5,475.4 541.1,475.4 543.7,475.4 546.4,475.4 549,475.4 551.6,475.4 554.3,475.4 556.9,475.4 559.5,475.4 562.1,475.4 564.8,475.4 567.4,475.4 570,475.4 572.7,475.4 575.3,475.4 577.9,475.4 580.6,475.4 583.2,475.4 585.8,475.4 588.5,475.4 591.1,475.4 593.7,475.4 596.3,475.4 599,475.4 601.6,475.4 604.2,475.4 606.9,475.4 609.5,475.4" fill="none" stroke="#EDB120" stroke-width="2.2" stroke-linejoin="round" />
<g style="font-size:7.9px" fill="#262626"><text x="480.2" y="515.1" text-anchor="middle">0</text>
<text x="506.1" y="515.1" text-anchor="middle">10</text>
<text x="531.9" y="515.1" text-anchor="middle">20</text>
<text x="557.8" y="515.1" text-anchor="middle">30</text>
<text x="583.6" y="515.1" text-anchor="middle">40</text>
<text x="609.5" y="515.1" text-anchor="middle">50</text>
<text x="477.5" y="502" text-anchor="end">-5</text>
<text x="477.5" y="477.9" text-anchor="end">0</text>
<text x="477.5" y="453.8" text-anchor="end">5</text>
<text x="477.5" y="429.8" text-anchor="end">10</text>
<text x="480.5" y="427" style="font-size:10.0px">&#215;</text>
<text x="487.6" y="425.9" style="font-size:8.0px">10</text>
<text x="496.5" y="421.8" style="font-size:6.5px">-4</text></g>
<rect x="634.5" y="426.6" width="128.9" height="76.5" fill="#fff"/>
<line x1="634.5" y1="426.6" x2="634.5" y2="503.1" stroke="#e6e6e6" stroke-width="0.9"/>
<line x1="666.7" y1="426.6" x2="666.7" y2="503.1" stroke="#e6e6e6" stroke-width="0.9"/>
<line x1="698.9" y1="426.6" x2="698.9" y2="503.1" stroke="#e6e6e6" stroke-width="0.9"/>
<line x1="731.2" y1="426.6" x2="731.2" y2="503.1" stroke="#e6e6e6" stroke-width="0.9"/>
<line x1="763.4" y1="426.6" x2="763.4" y2="503.1" stroke="#e6e6e6" stroke-width="0.9"/>
<line x1="634.5" y1="503.1" x2="763.4" y2="503.1" stroke="#e6e6e6" stroke-width="0.9"/>
<line x1="634.5" y1="484" x2="763.4" y2="484" stroke="#e6e6e6" stroke-width="0.9"/>
<line x1="634.5" y1="464.9" x2="763.4" y2="464.9" stroke="#e6e6e6" stroke-width="0.9"/>
<line x1="634.5" y1="445.7" x2="763.4" y2="445.7" stroke="#e6e6e6" stroke-width="0.9"/>
<line x1="634.5" y1="426.6" x2="763.4" y2="426.6" stroke="#e6e6e6" stroke-width="0.9"/>
<path d="M634.5 426.6V503.1H763.4" fill="none" stroke="#555555" stroke-width="1.0"/>
<path d="M634.5 503.1v-2M666.7 503.1v-2M698.9 503.1v-2M731.2 503.1v-2M763.4 503.1v-2M634.5 503.1h2M634.5 484h2M634.5 464.9h2M634.5 445.7h2M634.5 426.6h2" stroke="#555555" stroke-width="1.0"/>
<path d="M635.2 488.3V447.3M636.8 488.4V450.5M638.2 485.1V452.3M639.8 486.5V458.2M641.2 481.9V441.7M642.8 488.3V443.7M644.2 485.5V445.6M645.8 478.3V448.8M647.2 482.3V451.2M648.8 486.9V450M650.2 482.8V450.9M651.8 479.6V450.1M653.2 485.5V452.9M654.8 480.9V453.9M656.2 478.7V442.3M657.8 481V453.7M659.2 485.7V448.2M660.8 485.7V444.3M662.2 483.4V443.9M663.8 480.1V450.1M665.2 486V448.5M666.8 484.5V445.3M668.2 478.8V447.1M669.8 480V436.6M671.2 486.9V448.3M672.8 477.7V449.6M674.2 475.3V446.3M675.8 476.2V443.2M677.2 473.3V441.3M678.8 474.5V447.1M680.2 471.8V443.9M681.8 476.5V438.9M683.2 474.8V435.6M684.8 474.6V432.6M686.2 473V441.9M687.8 482.7V444.4M689.2 473.6V440.7M690.8 475.1V441.8M692.2 470.3V431.8M693.8 468.2V438.9M695.2 473.6V435.4M696.8 470.3V437.9M698.2 474V438.7M699.8 472.9V442.1M701.2 477.7V443.4M702.8 468.1V438.2M704.2 476.8V433.8M705.8 475V435M707.2 478.4V444.8M708.8 468.5V440.5M710.2 474.6V435.1M711.8 478.6V437.5M713.2 473.1V442.6M714.8 468V441.9M716.2 466.5V440.7M717.8 468.9V433.8M719.2 468.4V444M720.8 472.9V434.2M722.2 477.8V436M723.8 472V437.7M725.2 476.7V443.8M726.8 476.3V438.8M728.2 473.3V441M729.8 475.6V435M731.2 470.7V436.9M732.8 474.4V445M734.2 470.9V439.8M735.8 477.5V444.1M737.2 479.1V445.2M738.8 486.3V446.7M740.2 472.3V436.5M741.8 478.1V449M743.2 476.1V450.2M744.8 485.4V453.4M746.2 480.8V447M747.8 478.8V448.9M749.2 483.4V442.6M750.8 481V452.6M752.2 478.3V445.9M753.8 483.3V444.7M755.2 488.1V453.5M756.8 488.7V452.4M758.2 486.1V448.8M759.8 491V454.6M761.2 490.5V456.1M762.8 491.6V451.4" fill="none" stroke="#0072BD" stroke-width="1.5750000000000002"/>
<path d="M635.2 473.9V434.5M636.8 475V445.6M638.2 472.7V442M639.8 472.6V442.9M641.2 473.1V444.7M642.8 473.9V441M644.2 479.3V446.4M645.8 473.2V444.9M647.2 472.7V441.3M648.8 472.9V439.3M650.2 475.5V445.6M651.8 469.7V440.6M653.2 475.8V439.2M654.8 477.8V445.9M656.2 475.9V445.8M657.8 472.7V444.1M659.2 475V446.7M660.8 479.9V445.1M662.2 480.4V438.3M663.8 471.2V445M665.2 478.6V444.9M666.8 475.8V445.6M668.2 474.2V443.7M669.8 475.4V444.7M671.2 470V447.7M672.8 476.1V447.8M674.2 475.8V442.2M675.8 480.2V450.1M677.2 478.2V442.9M678.8 481V443.8M680.2 479.1V445.1M681.8 485.7V445.9M683.2 483.7V448.1M684.8 486.9V452.5M686.2 479.5V450.4M687.8 486V445.9M689.2 482.4V455M690.8 483.6V448.7M692.2 481.4V449.6M693.8 480.6V447.2M695.2 487.7V453.6M696.8 484.1V448.8M698.2 481.2V453.5M699.8 484.9V446.8M701.2 489.1V450.1M702.8 484.9V451.2M704.2 483.6V449.1M705.8 489.9V452.6M707.2 486.9V444.7M708.8 489.9V457M710.2 488.1V459.7M711.8 493.1V456.8M713.2 484.4V449.8M714.8 489.2V459.4M716.2 487.5V455.9M717.8 488.1V460.7M719.2 487.5V449.9M720.8 492.9V457.8M722.2 487.2V459.7M723.8 496.3V455.2M725.2 492.7V458.7M726.8 487.8V457.3M728.2 489.1V457M729.8 490.9V457.7M731.2 494.1V462.5M732.8 496.2V457.2M734.2 500V464.1M735.8 491.3V457.4M737.2 488.2V459.8M738.8 489.9V455.7M740.2 491V452.1M741.8 491.8V452M743.2 488.2V457.4M744.8 488V454.7M746.2 489.6V457.2M747.8 488.2V457.8M749.2 491V455.4M750.8 492.8V459.6M752.2 491.6V454.4M753.8 485.7V449.7M755.2 487.5V456.6M756.8 484.5V451.7M758.2 484.6V445M759.8 494.4V455M761.2 486.8V453.4M762.8 487.7V450.1" fill="none" stroke="#D95319" stroke-width="1.5750000000000002"/>
<path d="M635.2 482.4V447.4M636.8 490.9V442.7M638.2 485V449.3M639.8 481.2V448.7M641.2 484.3V449.4M642.8 487.4V448.7M644.2 492.7V448.5M645.8 483.2V440.3M647.2 484.4V450.1M648.8 488.7V447.7M650.2 478.3V453M651.8 484.8V446.2M653.2 485.5V450.1M654.8 491.6V451.6M656.2 493.3V449.8M657.8 480.3V449.9M659.2 493.3V440.3M660.8 485V452.4M662.2 485.9V447.6M663.8 485.9V448.6M665.2 482.5V449.3M666.8 483.3V451.4M668.2 483.9V447M669.8 482.5V444.8M671.2 489.7V451M672.8 482.1V446.7M674.2 482.6V445.4M675.8 490.6V449.9M677.2 483.5V449.8M678.8 483.8V447.7M680.2 484.5V448M681.8 484V453.1M683.2 480.4V443.8M684.8 491.3V444.2M686.2 488.2V448.3M687.8 479.1V452.5M689.2 487.2V443M690.8 472.8V447.9M692.2 479.4V447.2M693.8 479.2V449.4M695.2 480.1V449M696.8 477.7V440.7M698.2 487.6V449.5M699.8 490.3V445.2M701.2 479.1V447.3M702.8 490V442.3M704.2 487.8V450.9M705.8 482.1V451.4M707.2 478.4V447.8M708.8 477.1V444.3M710.2 482.9V443.4M711.8 477.8V451.3M713.2 480.9V444.4M714.8 478.9V443.3M716.2 479V446.5M717.8 484.6V449.5M719.2 474.1V443.1M720.8 483.9V444.8M722.2 480V446.2M723.8 480.2V437.2M725.2 472.6V443.9M726.8 477.8V446.5M728.2 479V440.9M729.8 478.2V442.8M731.2 473.8V449.1M732.8 477.2V452.1M734.2 477.5V446.4M735.8 474.4V442.4M737.2 482.3V441.4M738.8 478V444.3M740.2 477.9V446.8M741.8 480.1V445.4M743.2 477.4V442.3M744.8 478.5V445.1M746.2 473.6V438.3M747.8 479.1V445.6M749.2 479.5V444.6M750.8 476.6V443.7M752.2 471.5V448.6M753.8 476V441.9M755.2 478V442M756.8 486.6V437.4M758.2 479V446.7M759.8 480.9V441.7M761.2 479.5V439.5M762.8 477.1V443.3" fill="none" stroke="#EDB120" stroke-width="1.5750000000000002"/>
<g style="font-size:7.9px" fill="#262626"><text x="634.5" y="513.9" text-anchor="middle">1000</text>
<text x="666.7" y="513.9" text-anchor="middle">2000</text>
<text x="698.9" y="513.9" text-anchor="middle">3000</text>
<text x="731.2" y="513.9" text-anchor="middle">4000</text>
<text x="763.4" y="513.9" text-anchor="middle">5000</text>
<text x="631.8" y="505.6" text-anchor="end">-2</text>
<text x="631.8" y="486.4" text-anchor="end">-1</text>
<text x="631.8" y="467.3" text-anchor="end">0</text>
<text x="631.8" y="448.2" text-anchor="end">1</text>
<text x="631.8" y="429.1" text-anchor="end">2</text>
<text x="634.8" y="426.3" style="font-size:10.0px">&#215;</text>
<text x="641.9" y="425.2" style="font-size:8.0px">10</text>
<text x="650.8" y="421.1" style="font-size:6.5px">-9</text></g>
<text x="609.4" y="679.2" text-anchor="middle" fill="#000" style="font-family:'Liberation Serif',serif;font-size:21px">(<tspan style="font-weight:bold">d</tspan>)</text>
</svg></body></html>
